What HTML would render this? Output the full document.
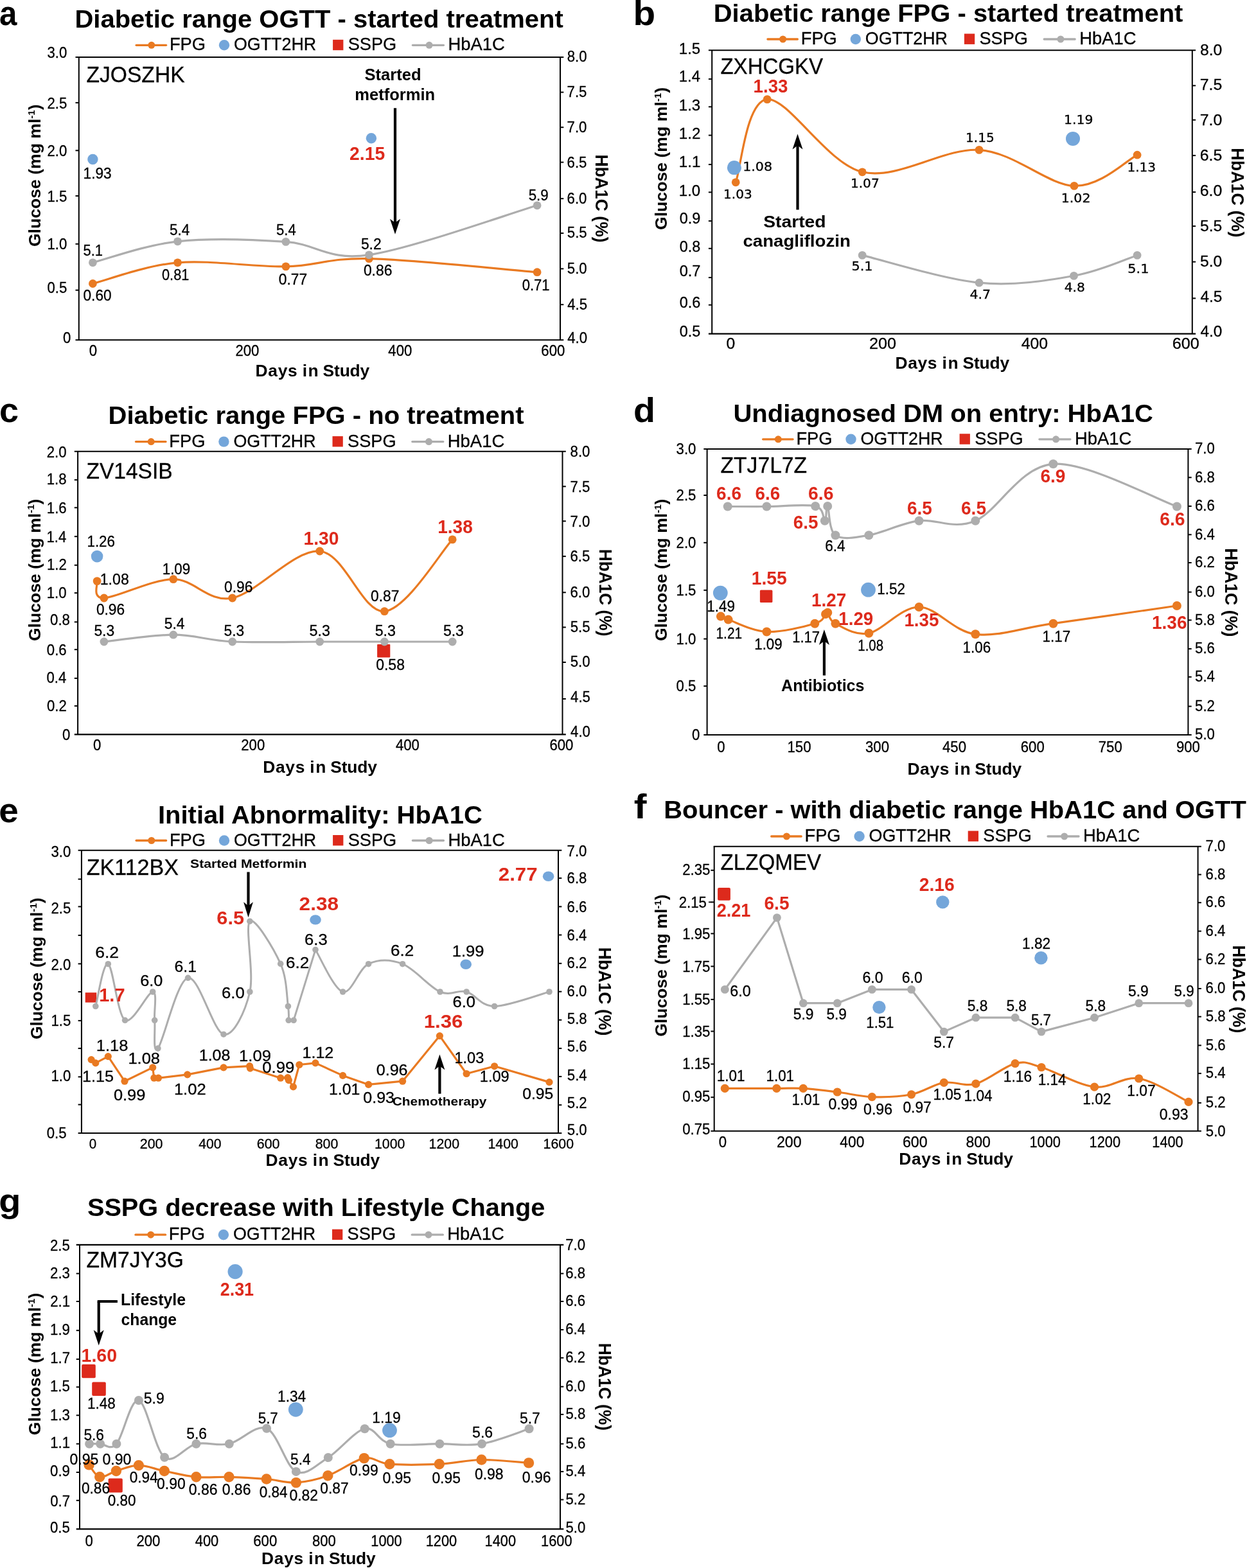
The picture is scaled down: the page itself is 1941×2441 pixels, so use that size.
<!DOCTYPE html>
<html lang="en"><head><meta charset="utf-8"><title>Longitudinal glucose and HbA1C profiles</title>
<style>html,body{margin:0;padding:0;background:#fff;overflow:hidden}svg{display:block}.r{stroke:#000;stroke-width:.3px}</style></head>
<body>
<svg width="1941" height="2441" viewBox="0 0 1941 2441" font-family="&quot;Liberation Sans&quot;, Arial, sans-serif">
<rect width="1941" height="2441" fill="#fff"/>
<g id="panel-a">
<text transform="translate(-0.88 39.1) scale(0.9119 1)" font-size="54" font-weight="bold">a</text>
<text transform="translate(116.4 43.2) scale(1.0341 1)" font-size="38.7" font-weight="bold">Diabetic range OGTT - started treatment</text>
<line x1="212.1" y1="70.3" x2="258.6" y2="70.3" stroke="#E97A22" stroke-width="3.3" stroke-linecap="round"/>
<circle cx="235.8" cy="70.3" r="5.5" fill="#E97A22"/>
<text transform="translate(263.92 78.3) scale(1.0110 1)" font-size="27" class="r">FPG</text>
<circle cx="349" cy="70.3" r="8.2" fill="#74A6DA"/>
<text transform="translate(363.99 78.3) scale(0.9945 1)" font-size="27" class="r">OGTT2HR</text>
<rect x="518.1" y="61.8" width="16.3" height="16.4" fill="#DD2A1C"/>
<text transform="translate(541.68 78.3) scale(1.0067 1)" font-size="27" class="r">SSPG</text>
<line x1="642.4" y1="70.3" x2="690.4" y2="70.3" stroke="#ADADAD" stroke-width="3.3" stroke-linecap="round"/>
<circle cx="668.1" cy="70.3" r="5.5" fill="#ADADAD"/>
<text transform="translate(697.41 78.3) scale(1.0155 1)" font-size="27" class="r">HbA1C</text>
<line x1="117.5" y1="89" x2="877.3" y2="89" stroke="#000" stroke-width="2.1"/>
<line x1="117.5" y1="529.3" x2="877.3" y2="529.3" stroke="#000" stroke-width="2.1"/>
<line x1="122.8" y1="89" x2="122.8" y2="529.3" stroke="#000" stroke-width="2"/>
<line x1="872" y1="89" x2="872" y2="529.3" stroke="#000" stroke-width="2"/>
<line x1="117.5" y1="159.9" x2="122.8" y2="159.9" stroke="#000" stroke-width="2"/>
<line x1="117.5" y1="234.3" x2="122.8" y2="234.3" stroke="#000" stroke-width="2"/>
<line x1="117.5" y1="305" x2="122.8" y2="305" stroke="#000" stroke-width="2"/>
<line x1="117.5" y1="379.8" x2="122.8" y2="379.8" stroke="#000" stroke-width="2"/>
<line x1="117.5" y1="451.7" x2="122.8" y2="451.7" stroke="#000" stroke-width="2"/>
<line x1="872" y1="143.6" x2="877.3" y2="143.6" stroke="#000" stroke-width="2"/>
<line x1="872" y1="198.2" x2="877.3" y2="198.2" stroke="#000" stroke-width="2"/>
<line x1="872" y1="252.6" x2="877.3" y2="252.6" stroke="#000" stroke-width="2"/>
<line x1="872" y1="309.2" x2="877.3" y2="309.2" stroke="#000" stroke-width="2"/>
<line x1="872" y1="363" x2="877.3" y2="363" stroke="#000" stroke-width="2"/>
<line x1="872" y1="418.4" x2="877.3" y2="418.4" stroke="#000" stroke-width="2"/>
<line x1="872" y1="474.2" x2="877.3" y2="474.2" stroke="#000" stroke-width="2"/>
<text transform="translate(73.45 89.66) scale(0.9400 1)" font-size="23.6" class="r">3.0</text>
<text transform="translate(73.45 168.66) scale(0.9400 1)" font-size="23.6" class="r">2.5</text>
<text transform="translate(73.45 243.06) scale(0.9400 1)" font-size="23.6" class="r">2.0</text>
<text transform="translate(73.45 314.26) scale(0.9400 1)" font-size="23.6" class="r">1.5</text>
<text transform="translate(73.45 388.36) scale(0.9400 1)" font-size="23.6" class="r">1.0</text>
<text transform="translate(73.45 456.16) scale(0.9400 1)" font-size="23.6" class="r">0.5</text>
<text transform="translate(98.08 533.56) scale(0.9400 1)" font-size="23.6" class="r">0</text>
<text transform="translate(882.7 95.76) scale(0.9400 1)" font-size="23.6" class="r">8.0</text>
<text transform="translate(882.59 151.16) scale(0.9400 1)" font-size="23.6" class="r">7.5</text>
<text transform="translate(882.59 205.76) scale(0.9400 1)" font-size="23.6" class="r">7.0</text>
<text transform="translate(882.59 260.56) scale(0.9400 1)" font-size="23.6" class="r">6.5</text>
<text transform="translate(882.59 317.06) scale(0.9400 1)" font-size="23.6" class="r">6.0</text>
<text transform="translate(882.81 370.36) scale(0.9400 1)" font-size="23.6" class="r">5.5</text>
<text transform="translate(882.81 425.86) scale(0.9400 1)" font-size="23.6" class="r">5.0</text>
<text transform="translate(883.15 481.86) scale(0.9400 1)" font-size="23.6" class="r">4.5</text>
<text transform="translate(883.15 534.26) scale(0.9400 1)" font-size="23.6" class="r">4.0</text>
<text transform="translate(138.64 554.06) scale(0.9400 1)" font-size="23.6" class="r">0</text>
<text transform="translate(366.42 554.06) scale(0.9400 1)" font-size="23.6" class="r">200</text>
<text transform="translate(604.3 554.06) scale(0.9400 1)" font-size="23.6" class="r">400</text>
<text transform="translate(842.32 554.06) scale(0.9400 1)" font-size="23.6" class="r">600</text>
<text y="586" font-size="26.4" font-weight="bold"><tspan x="397.58" letter-spacing="0.66">Days</tspan> <tspan x="470.65" letter-spacing="1.64">in</tspan> <tspan x="502.51" letter-spacing="-0.13">Study</tspan></text>
<text transform="translate(63 384.06) rotate(-90) scale(1.0069 1)" font-size="26.4" font-weight="bold">Glucose (mg ml<tspan font-size="15.05" dy="-9.5">-1</tspan><tspan dy="9.5">&#8203;</tspan>)</text>
<text transform="translate(927.1 240.47) rotate(90) scale(0.9515 1)" font-size="27.9" font-weight="bold">HbA1C (%)</text>
<text transform="translate(134.49 127.8) scale(0.9606 1)" font-size="35" class="r">ZJOSZHK</text>
<path d="M144.4 441.5C166.42 436.05 226.42 413.23 276.5 408.8C326.58 404.37 395.25 415.92 444.9 414.9C494.55 413.88 509.2 401.23 574.4 402.7C639.6 404.17 792.48 420.2 836.1 423.7" fill="none" stroke="#E97A22" stroke-width="3.2" stroke-linejoin="round" stroke-linecap="round"/>
<circle cx="144.4" cy="441.5" r="6.4" fill="#E97A22"/>
<circle cx="276.5" cy="408.8" r="6.4" fill="#E97A22"/>
<circle cx="444.9" cy="414.9" r="6.4" fill="#E97A22"/>
<circle cx="574.4" cy="402.7" r="6.4" fill="#E97A22"/>
<circle cx="836.1" cy="423.7" r="6.4" fill="#E97A22"/>
<path d="M144.4 408.8C166.42 403.3 226.42 381.2 276.5 375.8C326.58 370.4 395.25 372.9 444.9 376.4C494.55 379.9 509.2 406.23 574.4 396.8C639.6 387.37 792.48 332.63 836.1 319.8" fill="none" stroke="#ADADAD" stroke-width="3.2" stroke-linejoin="round" stroke-linecap="round"/>
<circle cx="144.4" cy="408.8" r="6.4" fill="#ADADAD"/>
<circle cx="276.5" cy="375.8" r="6.4" fill="#ADADAD"/>
<circle cx="444.9" cy="376.4" r="6.4" fill="#ADADAD"/>
<circle cx="574.4" cy="396.8" r="6.4" fill="#ADADAD"/>
<circle cx="836.1" cy="319.8" r="6.4" fill="#ADADAD"/>
<circle cx="144.4" cy="248" r="8.2" fill="#74A6DA"/>
<circle cx="577.9" cy="215.3" r="8.2" fill="#74A6DA"/>
<text transform="translate(129.6 277.8) scale(0.9612 1)" font-size="23.6" class="r">1.93</text>
<text transform="translate(129.52 398.4) scale(0.9322 1)" font-size="23.6" class="r">5.1</text>
<text transform="translate(264 365.5) scale(0.9534 1)" font-size="23.6" class="r">5.4</text>
<text transform="translate(430.02 365.5) scale(0.9341 1)" font-size="23.6" class="r">5.4</text>
<text transform="translate(561.89 387.6) scale(0.9681 1)" font-size="23.6" class="r">5.2</text>
<text transform="translate(822.71 311.7) scale(0.9449 1)" font-size="23.6" class="r">5.9</text>
<text transform="translate(129.49 467.9) scale(0.9611 1)" font-size="23.6" class="r">0.60</text>
<text transform="translate(252.03 435.5) scale(0.9206 1)" font-size="23.6" class="r">0.81</text>
<text transform="translate(433.79 442.7) scale(0.9662 1)" font-size="23.6" class="r">0.77</text>
<text transform="translate(565.88 429.1) scale(0.9705 1)" font-size="23.6" class="r">0.86</text>
<text transform="translate(812.72 451.5) scale(0.9343 1)" font-size="23.6" class="r">0.71</text>
<text transform="translate(544.01 249.2) scale(0.9769 1)" font-size="29" font-weight="bold" fill="#DD2A1C">2.15</text>
<text transform="translate(567.43 124.9) scale(0.9851 1)" font-size="26" font-weight="bold">Started</text>
<text transform="translate(552.24 156) scale(0.9831 1)" font-size="26" font-weight="bold">metformin</text>
<line x1="615" y1="168.3" x2="615" y2="347.8" stroke="#000" stroke-width="4.2"/>
<polygon points="615,364.8 607,340.8 615,346.8 623,340.8" fill="#000"/>
</g>
<g id="panel-b">
<text transform="translate(985.52 38.5) scale(1.0488 1)" font-size="54" font-weight="bold">b</text>
<text transform="translate(1110.7 34.4) scale(1.0332 1)" font-size="38.7" font-weight="bold">Diabetic range FPG - started treatment</text>
<line x1="1194.9" y1="61" x2="1241.4" y2="61" stroke="#E97A22" stroke-width="3.3" stroke-linecap="round"/>
<circle cx="1218.6" cy="61" r="5.5" fill="#E97A22"/>
<text transform="translate(1246.72 69) scale(1.0110 1)" font-size="27" class="r">FPG</text>
<circle cx="1331.8" cy="61" r="8.2" fill="#74A6DA"/>
<text transform="translate(1346.79 69) scale(0.9945 1)" font-size="27" class="r">OGTT2HR</text>
<rect x="1500.9" y="52.5" width="16.3" height="16.4" fill="#DD2A1C"/>
<text transform="translate(1524.48 69) scale(1.0067 1)" font-size="27" class="r">SSPG</text>
<line x1="1625.2" y1="61" x2="1673.2" y2="61" stroke="#ADADAD" stroke-width="3.3" stroke-linecap="round"/>
<circle cx="1650.9" cy="61" r="5.5" fill="#ADADAD"/>
<text transform="translate(1680.21 69) scale(1.0155 1)" font-size="27" class="r">HbA1C</text>
<line x1="1102.9" y1="78.2" x2="1861.1" y2="78.2" stroke="#000" stroke-width="2.1"/>
<line x1="1102.9" y1="519.6" x2="1861.1" y2="519.6" stroke="#000" stroke-width="2.1"/>
<line x1="1108.2" y1="78.2" x2="1108.2" y2="519.6" stroke="#000" stroke-width="2"/>
<line x1="1855.8" y1="78.2" x2="1855.8" y2="519.6" stroke="#000" stroke-width="2"/>
<line x1="1102.9" y1="123.1" x2="1108.2" y2="123.1" stroke="#000" stroke-width="2"/>
<line x1="1102.9" y1="166.3" x2="1108.2" y2="166.3" stroke="#000" stroke-width="2"/>
<line x1="1102.9" y1="210.6" x2="1108.2" y2="210.6" stroke="#000" stroke-width="2"/>
<line x1="1102.9" y1="256.1" x2="1108.2" y2="256.1" stroke="#000" stroke-width="2"/>
<line x1="1102.9" y1="299.3" x2="1108.2" y2="299.3" stroke="#000" stroke-width="2"/>
<line x1="1102.9" y1="344" x2="1108.2" y2="344" stroke="#000" stroke-width="2"/>
<line x1="1102.9" y1="386.8" x2="1108.2" y2="386.8" stroke="#000" stroke-width="2"/>
<line x1="1102.9" y1="432.1" x2="1108.2" y2="432.1" stroke="#000" stroke-width="2"/>
<line x1="1102.9" y1="474.7" x2="1108.2" y2="474.7" stroke="#000" stroke-width="2"/>
<line x1="1855.8" y1="133.3" x2="1861.1" y2="133.3" stroke="#000" stroke-width="2"/>
<line x1="1855.8" y1="186.7" x2="1861.1" y2="186.7" stroke="#000" stroke-width="2"/>
<line x1="1855.8" y1="242.1" x2="1861.1" y2="242.1" stroke="#000" stroke-width="2"/>
<line x1="1855.8" y1="299" x2="1861.1" y2="299" stroke="#000" stroke-width="2"/>
<line x1="1855.8" y1="352.1" x2="1861.1" y2="352.1" stroke="#000" stroke-width="2"/>
<line x1="1855.8" y1="407.6" x2="1861.1" y2="407.6" stroke="#000" stroke-width="2"/>
<line x1="1855.8" y1="464.4" x2="1861.1" y2="464.4" stroke="#000" stroke-width="2"/>
<text transform="translate(1056.8 84.06) scale(1.0169 1)" font-size="23.6" class="r">1.5</text>
<text transform="translate(1056.81 127.26) scale(1.0090 1)" font-size="23.6" class="r">1.4</text>
<text transform="translate(1056.79 171.56) scale(1.0210 1)" font-size="23.6" class="r">1.3</text>
<text transform="translate(1056.79 215.86) scale(1.0250 1)" font-size="23.6" class="r">1.2</text>
<text transform="translate(1056.79 259.76) scale(1.0250 1)" font-size="23.6" class="r">1.1</text>
<text transform="translate(1056.8 304.76) scale(1.0169 1)" font-size="23.6" class="r">1.0</text>
<text transform="translate(1057.66 348.46) scale(0.9936 1)" font-size="23.6" class="r">0.9</text>
<text transform="translate(1057.67 392.16) scale(0.9898 1)" font-size="23.6" class="r">0.8</text>
<text x="1057.66" y="430.16" font-size="23.6" class="r">0.7</text>
<text transform="translate(1057.66 479.16) scale(0.9936 1)" font-size="23.6" class="r">0.6</text>
<text transform="translate(1057.67 523.76) scale(0.9898 1)" font-size="23.6" class="r">0.5</text>
<text transform="translate(1867.89 85.56) scale(1.0488 1)" font-size="23.6" class="r">8.0</text>
<text transform="translate(1867.76 140.16) scale(1.0528 1)" font-size="23.6" class="r">7.5</text>
<text transform="translate(1867.76 194.96) scale(1.0528 1)" font-size="23.6" class="r">7.0</text>
<text transform="translate(1867.76 249.76) scale(1.0528 1)" font-size="23.6" class="r">6.5</text>
<text transform="translate(1867.76 305.26) scale(1.0528 1)" font-size="23.6" class="r">6.0</text>
<text transform="translate(1868.01 359.76) scale(1.0448 1)" font-size="23.6" class="r">5.5</text>
<text transform="translate(1868.01 415.26) scale(1.0448 1)" font-size="23.6" class="r">5.0</text>
<text transform="translate(1868.39 469.76) scale(1.0329 1)" font-size="23.6" class="r">4.5</text>
<text transform="translate(1868.39 524.26) scale(1.0329 1)" font-size="23.6" class="r">4.0</text>
<text transform="translate(1130.56 543.26) scale(1.0437 1)" font-size="23.6" class="r">0</text>
<text transform="translate(1353.09 543.26) scale(1.0681 1)" font-size="23.6" class="r">200</text>
<text transform="translate(1589.73 543.26) scale(1.0514 1)" font-size="23.6" class="r">400</text>
<text transform="translate(1824.79 543.26) scale(1.0681 1)" font-size="23.6" class="r">600</text>
<text y="573.6" font-size="26.4" font-weight="bold"><tspan x="1393.48" letter-spacing="0.66">Days</tspan> <tspan x="1466.55" letter-spacing="1.64">in</tspan> <tspan x="1498.41" letter-spacing="-0.13">Study</tspan></text>
<text transform="translate(1038.2 358.07) rotate(-90) scale(1.0097 1)" font-size="26.4" font-weight="bold">Glucose (mg ml<tspan font-size="15.05" dy="-9.5">-1</tspan><tspan dy="9.5">&#8203;</tspan>)</text>
<text transform="translate(1917.1 230.25) rotate(90) scale(0.9657 1)" font-size="27.9" font-weight="bold">HbA1C (%)</text>
<text transform="translate(1121.41 114.6) scale(0.9444 1)" font-size="35" class="r">ZXHCGKV</text>
<path d="M1342.2 397.4C1372.52 404.53 1469.22 434.87 1524.1 440.2C1578.98 445.53 1630.5 436.53 1671.5 429.4C1712.5 422.27 1753.67 402.73 1770.1 397.4" fill="none" stroke="#ADADAD" stroke-width="3.2" stroke-linejoin="round" stroke-linecap="round"/>
<circle cx="1342.2" cy="397.4" r="6.4" fill="#ADADAD"/>
<circle cx="1524.1" cy="440.2" r="6.4" fill="#ADADAD"/>
<circle cx="1671.5" cy="429.4" r="6.4" fill="#ADADAD"/>
<circle cx="1770.1" cy="397.4" r="6.4" fill="#ADADAD"/>
<path d="M1145.2 283.8C1153.37 262.27 1161.37 157.27 1194.2 154.6C1227.03 151.93 1287.22 254.67 1342.2 267.8C1397.18 280.93 1469.13 229.8 1524.1 233.4C1579.07 237 1631 288.1 1672 289.4C1713 290.7 1753.75 249.23 1770.1 241.2" fill="none" stroke="#E97A22" stroke-width="3.2" stroke-linejoin="round" stroke-linecap="round"/>
<circle cx="1145.2" cy="283.8" r="6.4" fill="#E97A22"/>
<circle cx="1194.2" cy="154.6" r="6.4" fill="#E97A22"/>
<circle cx="1342.2" cy="267.8" r="6.4" fill="#E97A22"/>
<circle cx="1524.1" cy="233.4" r="6.4" fill="#E97A22"/>
<circle cx="1672" cy="289.4" r="6.4" fill="#E97A22"/>
<circle cx="1770.1" cy="241.2" r="6.4" fill="#E97A22"/>
<circle cx="1142.9" cy="261.1" r="11" fill="#74A6DA"/>
<circle cx="1670" cy="215.9" r="11" fill="#74A6DA"/>
<text transform="translate(1156.13 266.3) scale(1.1094 1)" font-size="18.6" class="r" font-family="&quot;DejaVu Sans&quot;, Verdana, sans-serif">1.08</text>
<text transform="translate(1126.09 309.2) scale(1.0806 1)" font-size="18.6" class="r" font-family="&quot;DejaVu Sans&quot;, Verdana, sans-serif">1.03</text>
<text transform="translate(1323.88 292) scale(1.0832 1)" font-size="18.6" class="r" font-family="&quot;DejaVu Sans&quot;, Verdana, sans-serif">1.07</text>
<text transform="translate(1502.99 221.1) scale(1.0806 1)" font-size="18.6" class="r" font-family="&quot;DejaVu Sans&quot;, Verdana, sans-serif">1.15</text>
<text transform="translate(1656.06 192.8) scale(1.0963 1)" font-size="18.6" class="r" font-family="&quot;DejaVu Sans&quot;, Verdana, sans-serif">1.19</text>
<text transform="translate(1754.39 266.9) scale(1.0806 1)" font-size="18.6" class="r" font-family="&quot;DejaVu Sans&quot;, Verdana, sans-serif">1.13</text>
<text transform="translate(1651.74 315.1) scale(1.1046 1)" font-size="18.6" class="r" font-family="&quot;DejaVu Sans&quot;, Verdana, sans-serif">1.02</text>
<text transform="translate(1325.44 421.3) scale(1.1205 1)" font-size="18.6" class="r" font-family="&quot;DejaVu Sans&quot;, Verdana, sans-serif">5.1</text>
<text transform="translate(1509.38 465) scale(1.1011 1)" font-size="18.6" class="r" font-family="&quot;DejaVu Sans&quot;, Verdana, sans-serif">4.7</text>
<text transform="translate(1656.69 454.2) scale(1.0862 1)" font-size="18.6" class="r" font-family="&quot;DejaVu Sans&quot;, Verdana, sans-serif">4.8</text>
<text transform="translate(1755.33 425) scale(1.1243 1)" font-size="18.6" class="r" font-family="&quot;DejaVu Sans&quot;, Verdana, sans-serif">5.1</text>
<text transform="translate(1172.6 143.8) scale(0.9551 1)" font-size="29" font-weight="bold" fill="#DD2A1C">1.33</text>
<line x1="1241.5" y1="326.5" x2="1241.5" y2="225.6" stroke="#000" stroke-width="4.2"/>
<polygon points="1241.5,208.6 1233.5,232.6 1241.5,226.6 1249.5,232.6" fill="#000"/>
<text transform="translate(1188.15 353.6) scale(1.0884 1)" font-size="26" font-weight="bold">Started</text>
<text transform="translate(1156.39 383.9) scale(1.0637 1)" font-size="26" font-weight="bold">canagliflozin</text>
</g>
<g id="panel-c">
<text x="-0.96" y="657.2" font-size="54" font-weight="bold">c</text>
<text transform="translate(168.6 659.6) scale(1.0341 1)" font-size="38.7" font-weight="bold">Diabetic range FPG - no treatment</text>
<line x1="211.5" y1="687.6" x2="258" y2="687.6" stroke="#E97A22" stroke-width="3.3" stroke-linecap="round"/>
<circle cx="235.2" cy="687.6" r="5.5" fill="#E97A22"/>
<text transform="translate(263.32 695.6) scale(1.0110 1)" font-size="27" class="r">FPG</text>
<circle cx="348.4" cy="687.6" r="8.2" fill="#74A6DA"/>
<text transform="translate(363.39 695.6) scale(0.9945 1)" font-size="27" class="r">OGTT2HR</text>
<rect x="517.5" y="679.1" width="16.3" height="16.4" fill="#DD2A1C"/>
<text transform="translate(541.08 695.6) scale(1.0067 1)" font-size="27" class="r">SSPG</text>
<line x1="641.8" y1="687.6" x2="689.8" y2="687.6" stroke="#ADADAD" stroke-width="3.3" stroke-linecap="round"/>
<circle cx="667.5" cy="687.6" r="5.5" fill="#ADADAD"/>
<text transform="translate(696.81 695.6) scale(1.0155 1)" font-size="27" class="r">HbA1C</text>
<line x1="115.8" y1="702.8" x2="880.8" y2="702.8" stroke="#000" stroke-width="2.1"/>
<line x1="115.8" y1="1143.4" x2="880.8" y2="1143.4" stroke="#000" stroke-width="2.1"/>
<line x1="121.1" y1="702.8" x2="121.1" y2="1143.4" stroke="#000" stroke-width="2"/>
<line x1="875.5" y1="702.8" x2="875.5" y2="1143.4" stroke="#000" stroke-width="2"/>
<line x1="115.8" y1="747.1" x2="121.1" y2="747.1" stroke="#000" stroke-width="2"/>
<line x1="115.8" y1="790.3" x2="121.1" y2="790.3" stroke="#000" stroke-width="2"/>
<line x1="115.8" y1="835.2" x2="121.1" y2="835.2" stroke="#000" stroke-width="2"/>
<line x1="115.8" y1="879.8" x2="121.1" y2="879.8" stroke="#000" stroke-width="2"/>
<line x1="115.8" y1="923.1" x2="121.1" y2="923.1" stroke="#000" stroke-width="2"/>
<line x1="115.8" y1="968.3" x2="121.1" y2="968.3" stroke="#000" stroke-width="2"/>
<line x1="115.8" y1="1011.2" x2="121.1" y2="1011.2" stroke="#000" stroke-width="2"/>
<line x1="115.8" y1="1055.9" x2="121.1" y2="1055.9" stroke="#000" stroke-width="2"/>
<line x1="115.8" y1="1099" x2="121.1" y2="1099" stroke="#000" stroke-width="2"/>
<line x1="875.5" y1="757.3" x2="880.8" y2="757.3" stroke="#000" stroke-width="2"/>
<line x1="875.5" y1="811.3" x2="880.8" y2="811.3" stroke="#000" stroke-width="2"/>
<line x1="875.5" y1="866.1" x2="880.8" y2="866.1" stroke="#000" stroke-width="2"/>
<line x1="875.5" y1="922.3" x2="880.8" y2="922.3" stroke="#000" stroke-width="2"/>
<line x1="875.5" y1="976.5" x2="880.8" y2="976.5" stroke="#000" stroke-width="2"/>
<line x1="875.5" y1="1031" x2="880.8" y2="1031" stroke="#000" stroke-width="2"/>
<line x1="875.5" y1="1088" x2="880.8" y2="1088" stroke="#000" stroke-width="2"/>
<text transform="translate(72.75 711.56) scale(0.9400 1)" font-size="23.6" class="r">2.0</text>
<text transform="translate(72.75 754.46) scale(0.9400 1)" font-size="23.6" class="r">1.8</text>
<text transform="translate(72.86 799.16) scale(0.9400 1)" font-size="23.6" class="r">1.6</text>
<text transform="translate(72.53 844.26) scale(0.9400 1)" font-size="23.6" class="r">1.4</text>
<text transform="translate(72.97 887.26) scale(0.9400 1)" font-size="23.6" class="r">1.2</text>
<text transform="translate(72.75 931.26) scale(0.9400 1)" font-size="23.6" class="r">1.0</text>
<text transform="translate(78.05 973.06) scale(0.9400 1)" font-size="23.6" class="r">0.8</text>
<text transform="translate(72.86 1020.26) scale(0.9400 1)" font-size="23.6" class="r">0.6</text>
<text transform="translate(72.53 1063.26) scale(0.9400 1)" font-size="23.6" class="r">0.4</text>
<text transform="translate(72.97 1107.26) scale(0.9400 1)" font-size="23.6" class="r">0.2</text>
<text transform="translate(97.08 1151.66) scale(0.9400 1)" font-size="23.6" class="r">0</text>
<text transform="translate(887.6 711.06) scale(0.9400 1)" font-size="23.6" class="r">8.0</text>
<text transform="translate(887.49 765.56) scale(0.9400 1)" font-size="23.6" class="r">7.5</text>
<text transform="translate(887.49 820.46) scale(0.9400 1)" font-size="23.6" class="r">7.0</text>
<text transform="translate(887.49 874.36) scale(0.9400 1)" font-size="23.6" class="r">6.5</text>
<text transform="translate(887.49 929.96) scale(0.9400 1)" font-size="23.6" class="r">6.0</text>
<text transform="translate(887.71 983.86) scale(0.9400 1)" font-size="23.6" class="r">5.5</text>
<text transform="translate(887.71 1038.46) scale(0.9400 1)" font-size="23.6" class="r">5.0</text>
<text transform="translate(888.05 1093.26) scale(0.9400 1)" font-size="23.6" class="r">4.5</text>
<text transform="translate(888.05 1147.26) scale(0.9400 1)" font-size="23.6" class="r">4.0</text>
<text transform="translate(144.94 1168.26) scale(0.9400 1)" font-size="23.6" class="r">0</text>
<text transform="translate(375.22 1168.26) scale(0.9400 1)" font-size="23.6" class="r">200</text>
<text transform="translate(615.9 1168.26) scale(0.9400 1)" font-size="23.6" class="r">400</text>
<text transform="translate(855.42 1168.26) scale(0.9400 1)" font-size="23.6" class="r">600</text>
<text y="1203.3" font-size="26.4" font-weight="bold"><tspan x="409.28" letter-spacing="0.66">Days</tspan> <tspan x="482.35" letter-spacing="1.64">in</tspan> <tspan x="514.21" letter-spacing="-0.13">Study</tspan></text>
<text transform="translate(62.6 998.06) rotate(-90) scale(1.0065 1)" font-size="26.4" font-weight="bold">Glucose (mg ml<tspan font-size="15.05" dy="-9.5">-1</tspan><tspan dy="9.5">&#8203;</tspan>)</text>
<text transform="translate(932.7 854.79) rotate(90) scale(0.9416 1)" font-size="27.9" font-weight="bold">HbA1C (%)</text>
<text transform="translate(134.49 744.8) scale(0.9577 1)" font-size="35" class="r">ZV14SIB</text>
<rect x="587.1" y="1003.1" width="20.2" height="20.3" fill="#DD2A1C" rx="0.8"/>
<path d="M161.9 999C179.88 997.2 236.5 988.2 269.8 988.2C303.1 988.2 323.72 997.2 361.7 999C399.68 1000.8 458.25 999 497.7 999C537.15 999 563.98 999 598.4 999C632.82 999 686.57 999 704.2 999" fill="none" stroke="#ADADAD" stroke-width="3.2" stroke-linejoin="round" stroke-linecap="round"/>
<circle cx="161.9" cy="999" r="6.4" fill="#ADADAD"/>
<circle cx="269.8" cy="988.2" r="6.4" fill="#ADADAD"/>
<circle cx="361.7" cy="999" r="6.4" fill="#ADADAD"/>
<circle cx="497.7" cy="999" r="6.4" fill="#ADADAD"/>
<circle cx="598.4" cy="999" r="6.4" fill="#ADADAD"/>
<circle cx="704.2" cy="999" r="6.4" fill="#ADADAD"/>
<circle cx="151.1" cy="866.1" r="9.3" fill="#74A6DA"/>
<path d="M151.1 904.6C152.9 909 142.12 931.48 161.9 931C181.68 930.52 236.5 901.7 269.8 901.7C303.1 901.7 323.72 938.28 361.7 931C399.68 923.72 458.25 854.55 497.7 858C537.15 861.45 563.98 954.72 598.4 951.7C632.82 948.68 686.57 858.53 704.2 839.9" fill="none" stroke="#E97A22" stroke-width="3.2" stroke-linejoin="round" stroke-linecap="round"/>
<circle cx="151.1" cy="904.6" r="6.4" fill="#E97A22"/>
<circle cx="161.9" cy="931" r="6.4" fill="#E97A22"/>
<circle cx="269.8" cy="901.7" r="6.4" fill="#E97A22"/>
<circle cx="361.7" cy="931" r="6.4" fill="#E97A22"/>
<circle cx="497.7" cy="858" r="6.4" fill="#E97A22"/>
<circle cx="598.4" cy="951.7" r="6.4" fill="#E97A22"/>
<circle cx="704.2" cy="839.9" r="6.4" fill="#E97A22"/>
<text transform="translate(135.42 851.4) scale(0.9496 1)" font-size="23.6" class="r">1.26</text>
<text transform="translate(155.77 910.3) scale(0.9794 1)" font-size="23.6" class="r">1.08</text>
<text transform="translate(252.72 893.7) scale(0.9473 1)" font-size="23.6" class="r">1.09</text>
<text transform="translate(349.09 922.4) scale(0.9659 1)" font-size="23.6" class="r">0.96</text>
<text transform="translate(149.89 956.8) scale(0.9636 1)" font-size="23.6" class="r">0.96</text>
<text transform="translate(576.99 936.4) scale(0.9662 1)" font-size="23.6" class="r">0.87</text>
<text transform="translate(146.39 989.5) scale(0.9676 1)" font-size="23.6" class="r">5.3</text>
<text transform="translate(255.79 979.3) scale(0.9662 1)" font-size="23.6" class="r">5.4</text>
<text transform="translate(348.59 989.5) scale(0.9643 1)" font-size="23.6" class="r">5.3</text>
<text transform="translate(481.57 989.5) scale(0.9871 1)" font-size="23.6" class="r">5.3</text>
<text transform="translate(583.67 989.5) scale(0.9871 1)" font-size="23.6" class="r">5.3</text>
<text transform="translate(689.88 989.5) scale(0.9773 1)" font-size="23.6" class="r">5.3</text>
<text transform="translate(585.18 1043.4) scale(0.9747 1)" font-size="23.6" class="r">0.58</text>
<text transform="translate(472.57 847.9) scale(0.9726 1)" font-size="29" font-weight="bold" fill="#DD2A1C">1.30</text>
<text transform="translate(681.18 829.5) scale(0.9674 1)" font-size="29" font-weight="bold" fill="#DD2A1C">1.38</text>
</g>
<g id="panel-d">
<text transform="translate(985.97 656.7) scale(1.0304 1)" font-size="54" font-weight="bold">d</text>
<text transform="translate(1141.4 656.7) scale(1.0342 1)" font-size="38.7" font-weight="bold">Undiagnosed DM on entry: HbA1C</text>
<line x1="1187.6" y1="683.8" x2="1234.1" y2="683.8" stroke="#E97A22" stroke-width="3.3" stroke-linecap="round"/>
<circle cx="1211.3" cy="683.8" r="5.5" fill="#E97A22"/>
<text transform="translate(1239.42 691.8) scale(1.0110 1)" font-size="27" class="r">FPG</text>
<circle cx="1324.5" cy="683.8" r="8.2" fill="#74A6DA"/>
<text transform="translate(1339.49 691.8) scale(0.9945 1)" font-size="27" class="r">OGTT2HR</text>
<rect x="1493.6" y="675.3" width="16.3" height="16.4" fill="#DD2A1C"/>
<text transform="translate(1517.18 691.8) scale(1.0067 1)" font-size="27" class="r">SSPG</text>
<line x1="1617.9" y1="683.8" x2="1665.9" y2="683.8" stroke="#ADADAD" stroke-width="3.3" stroke-linecap="round"/>
<circle cx="1643.6" cy="683.8" r="5.5" fill="#ADADAD"/>
<text transform="translate(1672.91 691.8) scale(1.0155 1)" font-size="27" class="r">HbA1C</text>
<line x1="1095.3" y1="699" x2="1854.7" y2="699" stroke="#000" stroke-width="2.1"/>
<line x1="1095.3" y1="1144" x2="1854.7" y2="1144" stroke="#000" stroke-width="2.1"/>
<line x1="1100.6" y1="699" x2="1100.6" y2="1144" stroke="#000" stroke-width="2"/>
<line x1="1849.4" y1="699" x2="1849.4" y2="1144" stroke="#000" stroke-width="2"/>
<line x1="1095.3" y1="771" x2="1100.6" y2="771" stroke="#000" stroke-width="2"/>
<line x1="1095.3" y1="844.8" x2="1100.6" y2="844.8" stroke="#000" stroke-width="2"/>
<line x1="1095.3" y1="918.8" x2="1100.6" y2="918.8" stroke="#000" stroke-width="2"/>
<line x1="1095.3" y1="994.6" x2="1100.6" y2="994.6" stroke="#000" stroke-width="2"/>
<line x1="1095.3" y1="1068.1" x2="1100.6" y2="1068.1" stroke="#000" stroke-width="2"/>
<line x1="1849.4" y1="743.3" x2="1854.7" y2="743.3" stroke="#000" stroke-width="2"/>
<line x1="1849.4" y1="788" x2="1854.7" y2="788" stroke="#000" stroke-width="2"/>
<line x1="1849.4" y1="832.3" x2="1854.7" y2="832.3" stroke="#000" stroke-width="2"/>
<line x1="1849.4" y1="876" x2="1854.7" y2="876" stroke="#000" stroke-width="2"/>
<line x1="1849.4" y1="921.7" x2="1854.7" y2="921.7" stroke="#000" stroke-width="2"/>
<line x1="1849.4" y1="965.4" x2="1854.7" y2="965.4" stroke="#000" stroke-width="2"/>
<line x1="1849.4" y1="1010.1" x2="1854.7" y2="1010.1" stroke="#000" stroke-width="2"/>
<line x1="1849.4" y1="1053.8" x2="1854.7" y2="1053.8" stroke="#000" stroke-width="2"/>
<line x1="1849.4" y1="1099.6" x2="1854.7" y2="1099.6" stroke="#000" stroke-width="2"/>
<text transform="translate(1052.55 706.66) scale(0.9400 1)" font-size="23.6" class="r">3.0</text>
<text transform="translate(1052.55 779.26) scale(0.9400 1)" font-size="23.6" class="r">2.5</text>
<text transform="translate(1052.55 853.06) scale(0.9400 1)" font-size="23.6" class="r">2.0</text>
<text transform="translate(1052.55 927.06) scale(0.9400 1)" font-size="23.6" class="r">1.5</text>
<text transform="translate(1052.55 1002.86) scale(0.9400 1)" font-size="23.6" class="r">1.0</text>
<text transform="translate(1052.55 1076.36) scale(0.9400 1)" font-size="23.6" class="r">0.5</text>
<text transform="translate(1076.98 1151.66) scale(0.9400 1)" font-size="23.6" class="r">0</text>
<text transform="translate(1859.89 705.76) scale(0.9400 1)" font-size="23.6" class="r">7.0</text>
<text transform="translate(1859.89 750.66) scale(0.9400 1)" font-size="23.6" class="r">6.8</text>
<text transform="translate(1859.89 795.36) scale(0.9400 1)" font-size="23.6" class="r">6.6</text>
<text transform="translate(1859.89 839.66) scale(0.9400 1)" font-size="23.6" class="r">6.4</text>
<text transform="translate(1859.89 883.36) scale(0.9400 1)" font-size="23.6" class="r">6.2</text>
<text transform="translate(1859.89 929.06) scale(0.9400 1)" font-size="23.6" class="r">6.0</text>
<text transform="translate(1860.11 972.76) scale(0.9400 1)" font-size="23.6" class="r">5.8</text>
<text transform="translate(1860.11 1017.46) scale(0.9400 1)" font-size="23.6" class="r">5.6</text>
<text transform="translate(1860.11 1061.16) scale(0.9400 1)" font-size="23.6" class="r">5.4</text>
<text transform="translate(1860.11 1106.96) scale(0.9400 1)" font-size="23.6" class="r">5.2</text>
<text transform="translate(1860.11 1151.06) scale(0.9400 1)" font-size="23.6" class="r">5.0</text>
<text transform="translate(1116.34 1170.56) scale(0.9400 1)" font-size="23.6" class="r">0</text>
<text transform="translate(1225.54 1170.56) scale(0.9400 1)" font-size="23.6" class="r">150</text>
<text transform="translate(1347.03 1170.56) scale(0.9400 1)" font-size="23.6" class="r">300</text>
<text transform="translate(1467 1170.56) scale(0.9400 1)" font-size="23.6" class="r">450</text>
<text transform="translate(1588.72 1170.56) scale(0.9400 1)" font-size="23.6" class="r">600</text>
<text transform="translate(1709.72 1170.56) scale(0.9400 1)" font-size="23.6" class="r">750</text>
<text transform="translate(1830.88 1170.56) scale(0.9400 1)" font-size="23.6" class="r">900</text>
<text y="1206.2" font-size="26.4" font-weight="bold"><tspan x="1412.38" letter-spacing="0.66">Days</tspan> <tspan x="1485.45" letter-spacing="1.64">in</tspan> <tspan x="1517.31" letter-spacing="-0.13">Study</tspan></text>
<text transform="translate(1038.3 998.06) rotate(-90) scale(1.0065 1)" font-size="26.4" font-weight="bold">Glucose (mg ml<tspan font-size="15.05" dy="-9.5">-1</tspan><tspan dy="9.5">&#8203;</tspan>)</text>
<text transform="translate(1906.9 853.26) rotate(90) scale(0.9586 1)" font-size="27.9" font-weight="bold">HbA1C (%)</text>
<text transform="translate(1121.39 736) scale(0.9630 1)" font-size="35" class="r">ZTJ7L7Z</text>
<path d="M1132.7 788.5C1142.82 788.5 1170.65 788.58 1193.4 788.5C1216.15 788.42 1254.13 784.3 1269.2 788C1284.27 791.7 1280.63 810.7 1283.8 810.7C1286.97 810.7 1285.43 784.25 1288.2 788C1290.97 791.75 1289.7 825.67 1300.4 833.2C1311.1 840.73 1330.72 836.95 1352.4 833.2C1374.08 829.45 1402.85 814.45 1430.5 810.7C1458.15 806.95 1483.48 825.43 1518.3 810.7C1553.12 795.97 1587.13 726 1639.4 722.3C1691.67 718.6 1799.82 777.47 1831.9 788.5" fill="none" stroke="#ADADAD" stroke-width="3.2" stroke-linejoin="round" stroke-linecap="round"/>
<circle cx="1132.7" cy="788.5" r="7" fill="#ADADAD"/>
<circle cx="1193.4" cy="788.5" r="7" fill="#ADADAD"/>
<circle cx="1269.2" cy="788" r="7" fill="#ADADAD"/>
<circle cx="1283.8" cy="810.7" r="7" fill="#ADADAD"/>
<circle cx="1288.2" cy="788" r="7" fill="#ADADAD"/>
<circle cx="1300.4" cy="833.2" r="7" fill="#ADADAD"/>
<circle cx="1352.4" cy="833.2" r="7" fill="#ADADAD"/>
<circle cx="1430.5" cy="810.7" r="7" fill="#ADADAD"/>
<circle cx="1518.3" cy="810.7" r="7" fill="#ADADAD"/>
<circle cx="1639.4" cy="722.3" r="7" fill="#ADADAD"/>
<circle cx="1831.9" cy="788.5" r="7" fill="#ADADAD"/>
<rect x="1182.9" y="918.5" width="19.5" height="19.5" fill="#DD2A1C" rx="1.5"/>
<circle cx="1121.3" cy="923.1" r="11.4" fill="#74A6DA"/>
<circle cx="1351.5" cy="918.2" r="11.4" fill="#74A6DA"/>
<path d="M1121.9 959.6C1123.85 960.43 1121.68 960.62 1133.6 964.6C1145.52 968.58 1170.95 982.48 1193.4 983.5C1215.85 984.52 1253.03 975.28 1268.3 970.7C1283.57 966.12 1281.67 958.82 1285 956C1288.33 953.18 1285.73 951.35 1288.3 953.8C1290.87 956.25 1289.72 965.37 1300.4 970.7C1311.08 976.03 1330.72 990.08 1352.4 985.8C1374.08 981.52 1402.85 944.75 1430.5 945C1458.15 945.25 1483.48 983.02 1518.3 987.3C1553.12 991.58 1587.13 978.08 1639.4 970.7C1691.67 963.32 1799.82 947.62 1831.9 943" fill="none" stroke="#E97A22" stroke-width="3.2" stroke-linejoin="round" stroke-linecap="round"/>
<circle cx="1121.9" cy="959.6" r="7" fill="#E97A22"/>
<circle cx="1133.6" cy="964.6" r="7" fill="#E97A22"/>
<circle cx="1193.4" cy="983.5" r="7" fill="#E97A22"/>
<circle cx="1268.3" cy="970.7" r="7" fill="#E97A22"/>
<circle cx="1285" cy="956" r="7" fill="#E97A22"/>
<circle cx="1288.3" cy="953.8" r="7" fill="#E97A22"/>
<circle cx="1300.4" cy="970.7" r="7" fill="#E97A22"/>
<circle cx="1352.4" cy="985.8" r="7" fill="#E97A22"/>
<circle cx="1430.5" cy="945" r="7" fill="#E97A22"/>
<circle cx="1518.3" cy="987.3" r="7" fill="#E97A22"/>
<circle cx="1639.4" cy="970.7" r="7" fill="#E97A22"/>
<circle cx="1831.9" cy="943" r="7" fill="#E97A22"/>
<text transform="translate(1115.12 778.4) scale(0.9666 1)" font-size="29" font-weight="bold" fill="#DD2A1C">6.6</text>
<text transform="translate(1175.53 778.4) scale(0.9587 1)" font-size="29" font-weight="bold" fill="#DD2A1C">6.6</text>
<text transform="translate(1258.01 778.4) scale(0.9770 1)" font-size="29" font-weight="bold" fill="#DD2A1C">6.6</text>
<text transform="translate(1234.73 823.3) scale(0.9593 1)" font-size="29" font-weight="bold" fill="#DD2A1C">6.5</text>
<text transform="translate(1412.02 800.8) scale(0.9619 1)" font-size="29" font-weight="bold" fill="#DD2A1C">6.5</text>
<text transform="translate(1496.02 800.8) scale(0.9671 1)" font-size="29" font-weight="bold" fill="#DD2A1C">6.5</text>
<text transform="translate(1619.42 751.2) scale(0.9692 1)" font-size="29" font-weight="bold" fill="#DD2A1C">6.9</text>
<text transform="translate(1805.21 818.3) scale(0.9770 1)" font-size="29" font-weight="bold" fill="#DD2A1C">6.6</text>
<text transform="translate(1169.66 910.2) scale(0.9759 1)" font-size="29" font-weight="bold" fill="#DD2A1C">1.55</text>
<text transform="translate(1262.99 943.9) scale(0.9603 1)" font-size="29" font-weight="bold" fill="#DD2A1C">1.27</text>
<text transform="translate(1305.3 973) scale(0.9551 1)" font-size="29" font-weight="bold" fill="#DD2A1C">1.29</text>
<text transform="translate(1407.39 975.4) scale(0.9592 1)" font-size="29" font-weight="bold" fill="#DD2A1C">1.35</text>
<text transform="translate(1792.98 978.9) scale(0.9663 1)" font-size="29" font-weight="bold" fill="#DD2A1C">1.36</text>
<text transform="translate(1284.17 857.7) scale(0.9607 1)" font-size="23.6" class="r">6.4</text>
<text transform="translate(1365.21 925.2) scale(0.9522 1)" font-size="23.6" class="r">1.52</text>
<text transform="translate(1100.32 951.5) scale(0.9519 1)" font-size="23.6" class="r">1.49</text>
<text transform="translate(1114.54 993.5) scale(0.8824 1)" font-size="23.6" class="r">1.21</text>
<text transform="translate(1174.22 1011.2) scale(0.9473 1)" font-size="23.6" class="r">1.09</text>
<text transform="translate(1233.14 1000.2) scale(0.9359 1)" font-size="23.6" class="r">1.17</text>
<text transform="translate(1335.37 1013.3) scale(0.8637 1)" font-size="23.6" class="r">1.08</text>
<text transform="translate(1498.52 1015.6) scale(0.9496 1)" font-size="23.6" class="r">1.06</text>
<text transform="translate(1622.52 999.3) scale(0.9499 1)" font-size="23.6" class="r">1.17</text>
<line x1="1282.9" y1="1051.5" x2="1282.9" y2="997" stroke="#000" stroke-width="4.2"/>
<polygon points="1282.9,980 1274.9,1004 1282.9,998 1290.9,1004" fill="#000"/>
<text transform="translate(1216.07 1076.3) scale(0.9638 1)" font-size="26" font-weight="bold">Antibiotics</text>
</g>
<g id="panel-e">
<text transform="translate(-1.8 1279.8) scale(1.0185 1)" font-size="54" font-weight="bold">e</text>
<text transform="translate(246 1281.6) scale(1.0332 1)" font-size="38.7" font-weight="bold">Initial Abnormality: HbA1C</text>
<line x1="212.1" y1="1308.5" x2="258.6" y2="1308.5" stroke="#E97A22" stroke-width="3.3" stroke-linecap="round"/>
<circle cx="235.8" cy="1308.5" r="5.5" fill="#E97A22"/>
<text transform="translate(263.92 1316.5) scale(1.0110 1)" font-size="27" class="r">FPG</text>
<circle cx="349" cy="1308.5" r="8.2" fill="#74A6DA"/>
<text transform="translate(363.99 1316.5) scale(0.9945 1)" font-size="27" class="r">OGTT2HR</text>
<rect x="518.1" y="1300" width="16.3" height="16.4" fill="#DD2A1C"/>
<text transform="translate(541.68 1316.5) scale(1.0067 1)" font-size="27" class="r">SSPG</text>
<line x1="642.4" y1="1308.5" x2="690.4" y2="1308.5" stroke="#ADADAD" stroke-width="3.3" stroke-linecap="round"/>
<circle cx="668.1" cy="1308.5" r="5.5" fill="#ADADAD"/>
<text transform="translate(697.41 1316.5) scale(1.0155 1)" font-size="27" class="r">HbA1C</text>
<line x1="121.6" y1="1323.8" x2="874.3" y2="1323.8" stroke="#000" stroke-width="2.1"/>
<line x1="121.6" y1="1764" x2="874.3" y2="1764" stroke="#000" stroke-width="2.1"/>
<line x1="126.9" y1="1323.8" x2="126.9" y2="1764" stroke="#000" stroke-width="2"/>
<line x1="869" y1="1323.8" x2="869" y2="1764" stroke="#000" stroke-width="2"/>
<line x1="121.6" y1="1368.6" x2="126.9" y2="1368.6" stroke="#000" stroke-width="2"/>
<line x1="121.6" y1="1411.4" x2="126.9" y2="1411.4" stroke="#000" stroke-width="2"/>
<line x1="121.6" y1="1456.1" x2="126.9" y2="1456.1" stroke="#000" stroke-width="2"/>
<line x1="121.6" y1="1500.4" x2="126.9" y2="1500.4" stroke="#000" stroke-width="2"/>
<line x1="121.6" y1="1544" x2="126.9" y2="1544" stroke="#000" stroke-width="2"/>
<line x1="121.6" y1="1588.9" x2="126.9" y2="1588.9" stroke="#000" stroke-width="2"/>
<line x1="121.6" y1="1632.1" x2="126.9" y2="1632.1" stroke="#000" stroke-width="2"/>
<line x1="121.6" y1="1676.4" x2="126.9" y2="1676.4" stroke="#000" stroke-width="2"/>
<line x1="121.6" y1="1719.6" x2="126.9" y2="1719.6" stroke="#000" stroke-width="2"/>
<line x1="869" y1="1367.1" x2="874.3" y2="1367.1" stroke="#000" stroke-width="2"/>
<line x1="869" y1="1411.4" x2="874.3" y2="1411.4" stroke="#000" stroke-width="2"/>
<line x1="869" y1="1455.5" x2="874.3" y2="1455.5" stroke="#000" stroke-width="2"/>
<line x1="869" y1="1499.8" x2="874.3" y2="1499.8" stroke="#000" stroke-width="2"/>
<line x1="869" y1="1543.7" x2="874.3" y2="1543.7" stroke="#000" stroke-width="2"/>
<line x1="869" y1="1587.8" x2="874.3" y2="1587.8" stroke="#000" stroke-width="2"/>
<line x1="869" y1="1632.1" x2="874.3" y2="1632.1" stroke="#000" stroke-width="2"/>
<line x1="869" y1="1675.9" x2="874.3" y2="1675.9" stroke="#000" stroke-width="2"/>
<line x1="869" y1="1720.2" x2="874.3" y2="1720.2" stroke="#000" stroke-width="2"/>
<text transform="translate(79.45 1333.96) scale(0.9400 1)" font-size="23.6" class="r">3.0</text>
<text transform="translate(79.45 1422.06) scale(0.9400 1)" font-size="23.6" class="r">2.5</text>
<text transform="translate(79.45 1509.56) scale(0.9400 1)" font-size="23.6" class="r">2.0</text>
<text transform="translate(79.45 1597.26) scale(0.9400 1)" font-size="23.6" class="r">1.5</text>
<text transform="translate(79.45 1683.26) scale(0.9400 1)" font-size="23.6" class="r">1.0</text>
<text transform="translate(72.75 1772.46) scale(0.9400 1)" font-size="23.6" class="r">0.5</text>
<text transform="translate(882.59 1333.06) scale(0.9400 1)" font-size="23.6" class="r">7.0</text>
<text transform="translate(882.59 1375.36) scale(0.9400 1)" font-size="23.6" class="r">6.8</text>
<text transform="translate(882.59 1419.66) scale(0.9400 1)" font-size="23.6" class="r">6.6</text>
<text transform="translate(882.59 1463.76) scale(0.9400 1)" font-size="23.6" class="r">6.4</text>
<text transform="translate(882.59 1507.26) scale(0.9400 1)" font-size="23.6" class="r">6.2</text>
<text transform="translate(882.59 1550.56) scale(0.9400 1)" font-size="23.6" class="r">6.0</text>
<text transform="translate(882.81 1593.66) scale(0.9400 1)" font-size="23.6" class="r">5.8</text>
<text transform="translate(882.81 1637.46) scale(0.9400 1)" font-size="23.6" class="r">5.6</text>
<text transform="translate(882.81 1681.76) scale(0.9400 1)" font-size="23.6" class="r">5.4</text>
<text transform="translate(882.81 1724.96) scale(0.9400 1)" font-size="23.6" class="r">5.2</text>
<text transform="translate(882.81 1767.26) scale(0.9400 1)" font-size="23.6" class="r">5.0</text>
<text transform="translate(138.71 1787.93) scale(0.9400 1)" font-size="21.8" class="r">0</text>
<text transform="translate(217.73 1787.93) scale(0.9844 1)" font-size="21.8" class="r">200</text>
<text transform="translate(309.27 1787.93) scale(0.9690 1)" font-size="21.8" class="r">400</text>
<text transform="translate(399.73 1787.93) scale(0.9844 1)" font-size="21.8" class="r">600</text>
<text transform="translate(490.64 1787.93) scale(0.9813 1)" font-size="21.8" class="r">800</text>
<text transform="translate(583 1787.93) scale(0.9783 1)" font-size="21.8" class="r">1000</text>
<text transform="translate(667.6 1787.93) scale(0.9783 1)" font-size="21.8" class="r">1200</text>
<text transform="translate(759.5 1787.93) scale(0.9783 1)" font-size="21.8" class="r">1400</text>
<text transform="translate(845.6 1787.93) scale(0.9783 1)" font-size="21.8" class="r">1600</text>
<text y="1815.1" font-size="26.4" font-weight="bold"><tspan x="413.58" letter-spacing="0.66">Days</tspan> <tspan x="486.65" letter-spacing="1.64">in</tspan> <tspan x="518.51" letter-spacing="-0.13">Study</tspan></text>
<text transform="translate(66 1618.06) rotate(-90) scale(1.0023 1)" font-size="26.4" font-weight="bold">Glucose (mg ml<tspan font-size="15.05" dy="-9.5">-1</tspan><tspan dy="9.5">&#8203;</tspan>)</text>
<text transform="translate(932 1474.77) rotate(90) scale(0.9544 1)" font-size="27.9" font-weight="bold">HbA1C (%)</text>
<text transform="translate(134.78 1361.9) scale(0.9730 1)" font-size="35" class="r">ZK112BX</text>
<text transform="translate(296.06 1351.1) scale(1.1774 1)" font-size="18" font-weight="bold">Started Metformin</text>
<line x1="386.5" y1="1357.5" x2="386.5" y2="1411.2" stroke="#000" stroke-width="4.2"/>
<polygon points="386.5,1428.2 379.1,1404.2 386.5,1410.2 393.9,1404.2" fill="#000"/>
<rect x="132.7" y="1545.2" width="17.5" height="15.4" fill="#DD2A1C"/>
<path d="M148.8 1566.5C152.05 1555.53 160.67 1497.07 168.3 1500.7C175.93 1504.33 183.03 1581.08 194.6 1588.3C206.17 1595.52 230.02 1544 237.7 1544C245.38 1544 239.33 1573.62 240.7 1588.3C242.07 1602.98 237.25 1643.1 245.9 1632.1C254.55 1621.1 275.58 1525.95 292.6 1522.3C309.62 1518.65 331.95 1606.58 348 1610.2C364.05 1613.82 382.08 1573.33 388.9 1544C395.72 1514.67 380.93 1441.47 388.9 1434.2C396.87 1426.93 426.78 1478.35 436.7 1500.4C446.62 1522.45 446.32 1551.85 448.4 1566.5C450.48 1581.15 449.07 1584.67 449.2 1588.3L457.1 1588.3L491 1478.5C498.1 1489.42 519.83 1540.3 533.6 1544C547.37 1547.7 558.1 1507.92 573.6 1500.7C589.1 1493.48 608.03 1493.48 626.6 1500.7C645.17 1507.92 668.42 1536.78 685 1544C701.58 1551.22 712 1540.25 726.1 1544C740.2 1547.75 748.12 1566.5 769.6 1566.5C791.08 1566.5 840.77 1547.75 855 1544" fill="none" stroke="#ADADAD" stroke-width="3" stroke-linejoin="round" stroke-linecap="round"/>
<circle cx="148.8" cy="1566.5" r="4.8" fill="#ADADAD"/>
<circle cx="168.3" cy="1500.7" r="4.8" fill="#ADADAD"/>
<circle cx="194.6" cy="1588.3" r="4.8" fill="#ADADAD"/>
<circle cx="237.7" cy="1544" r="4.8" fill="#ADADAD"/>
<circle cx="240.7" cy="1588.3" r="4.8" fill="#ADADAD"/>
<circle cx="245.9" cy="1632.1" r="4.8" fill="#ADADAD"/>
<circle cx="292.6" cy="1522.3" r="4.8" fill="#ADADAD"/>
<circle cx="348" cy="1610.2" r="4.8" fill="#ADADAD"/>
<circle cx="388.9" cy="1544" r="4.8" fill="#ADADAD"/>
<circle cx="388.9" cy="1434.2" r="4.8" fill="#ADADAD"/>
<circle cx="436.7" cy="1500.4" r="4.8" fill="#ADADAD"/>
<circle cx="448.4" cy="1566.5" r="4.8" fill="#ADADAD"/>
<circle cx="449.2" cy="1588.3" r="4.8" fill="#ADADAD"/>
<circle cx="457.1" cy="1588.3" r="4.8" fill="#ADADAD"/>
<circle cx="491" cy="1478.5" r="4.8" fill="#ADADAD"/>
<circle cx="533.6" cy="1544" r="4.8" fill="#ADADAD"/>
<circle cx="573.6" cy="1500.7" r="4.8" fill="#ADADAD"/>
<circle cx="626.6" cy="1500.7" r="4.8" fill="#ADADAD"/>
<circle cx="685" cy="1544" r="4.8" fill="#ADADAD"/>
<circle cx="726.1" cy="1544" r="4.8" fill="#ADADAD"/>
<circle cx="769.6" cy="1566.5" r="4.8" fill="#ADADAD"/>
<circle cx="855" cy="1544" r="4.8" fill="#ADADAD"/>
<ellipse cx="491" cy="1431.9" rx="8.8" ry="7.7" fill="#74A6DA"/>
<ellipse cx="725.2" cy="1501.3" rx="8.8" ry="7.7" fill="#74A6DA"/>
<ellipse cx="853.6" cy="1364.2" rx="8.8" ry="7.7" fill="#74A6DA"/>
<path d="M142.1 1649.6L148.8 1654.9L168.3 1644.6L194 1683.2L237.7 1661.9L239.8 1678.2L246.5 1678.2L291.7 1672.9L348 1661.9L388.6 1659.7L389.4 1663.1L436.7 1678.2L447.8 1677.7L449.4 1681.6L456.5 1691.9L465.9 1657.5L491 1654.9L533.6 1674.4L573.6 1688.4L626.6 1683.2L684.4 1612.6L726.1 1671.5L769.6 1659.8L855 1684.6" fill="none" stroke="#E97A22" stroke-width="3.2" stroke-linejoin="round" stroke-linecap="round"/>
<circle cx="142.1" cy="1649.6" r="5.6" fill="#E97A22"/>
<circle cx="148.8" cy="1654.9" r="5.6" fill="#E97A22"/>
<circle cx="168.3" cy="1644.6" r="5.6" fill="#E97A22"/>
<circle cx="194" cy="1683.2" r="5.6" fill="#E97A22"/>
<circle cx="237.7" cy="1661.9" r="5.6" fill="#E97A22"/>
<circle cx="239.8" cy="1678.2" r="5.6" fill="#E97A22"/>
<circle cx="246.5" cy="1678.2" r="5.6" fill="#E97A22"/>
<circle cx="291.7" cy="1672.9" r="5.6" fill="#E97A22"/>
<circle cx="348" cy="1661.9" r="5.6" fill="#E97A22"/>
<circle cx="388.6" cy="1659.7" r="5.6" fill="#E97A22"/>
<circle cx="389.4" cy="1663.1" r="5.6" fill="#E97A22"/>
<circle cx="436.7" cy="1678.2" r="5.6" fill="#E97A22"/>
<circle cx="447.8" cy="1677.7" r="5.6" fill="#E97A22"/>
<circle cx="449.4" cy="1681.6" r="5.6" fill="#E97A22"/>
<circle cx="456.5" cy="1691.9" r="5.6" fill="#E97A22"/>
<circle cx="465.9" cy="1657.5" r="5.6" fill="#E97A22"/>
<circle cx="491" cy="1654.9" r="5.6" fill="#E97A22"/>
<circle cx="533.6" cy="1674.4" r="5.6" fill="#E97A22"/>
<circle cx="573.6" cy="1688.4" r="5.6" fill="#E97A22"/>
<circle cx="626.6" cy="1683.2" r="5.6" fill="#E97A22"/>
<circle cx="684.4" cy="1612.6" r="5.6" fill="#E97A22"/>
<circle cx="726.1" cy="1671.5" r="5.6" fill="#E97A22"/>
<circle cx="769.6" cy="1659.8" r="5.6" fill="#E97A22"/>
<circle cx="855" cy="1684.6" r="5.6" fill="#E97A22"/>
<text transform="translate(337.33 1439.3) scale(1.0578 1)" font-size="29" font-weight="bold" fill="#DD2A1C">6.5</text>
<text transform="translate(465.6 1417.4) scale(1.0877 1)" font-size="29" font-weight="bold" fill="#DD2A1C">2.38</text>
<text transform="translate(775.81 1370.7) scale(1.0779 1)" font-size="29" font-weight="bold" fill="#DD2A1C">2.77</text>
<text x="154.22" y="1559" font-size="29" font-weight="bold" fill="#DD2A1C">1.7</text>
<text transform="translate(659.67 1599.8) scale(1.0784 1)" font-size="29" font-weight="bold" fill="#DD2A1C">1.36</text>
<text transform="translate(703.78 1488.9) scale(1.0843 1)" font-size="23.6" class="r">1.99</text>
<text transform="translate(148.27 1491.2) scale(1.1234 1)" font-size="23.6" class="r">6.2</text>
<text transform="translate(271.56 1513.1) scale(1.0511 1)" font-size="23.6" class="r">6.1</text>
<text transform="translate(218.13 1534.7) scale(1.0724 1)" font-size="23.6" class="r">6.0</text>
<text transform="translate(445 1507.2) scale(1.1037 1)" font-size="23.6" class="r">6.2</text>
<text transform="translate(474.02 1470.8) scale(1.0863 1)" font-size="23.6" class="r">6.3</text>
<text transform="translate(608.1 1488) scale(1.1037 1)" font-size="23.6" class="r">6.2</text>
<text transform="translate(345.01 1554) scale(1.0919 1)" font-size="23.6" class="r">6.0</text>
<text transform="translate(704.42 1568) scale(1.0854 1)" font-size="23.6" class="r">6.0</text>
<text transform="translate(149.79 1636.3) scale(1.0813 1)" font-size="23.6" class="r">1.18</text>
<text transform="translate(127.91 1683.9) scale(1.0674 1)" font-size="23.6" class="r">1.15</text>
<text transform="translate(176.88 1713) scale(1.0775 1)" font-size="23.6" class="r">0.99</text>
<text transform="translate(199.39 1655.6) scale(1.0813 1)" font-size="23.6" class="r">1.08</text>
<text transform="translate(270.88 1703.7) scale(1.0849 1)" font-size="23.6" class="r">1.02</text>
<text transform="translate(309.72 1650.9) scale(1.0605 1)" font-size="23.6" class="r">1.08</text>
<text transform="translate(372.08 1651.7) scale(1.0843 1)" font-size="23.6" class="r">1.09</text>
<text transform="translate(408.27 1670.1) scale(1.0889 1)" font-size="23.6" class="r">0.99</text>
<text transform="translate(470.41 1646.5) scale(1.0663 1)" font-size="23.6" class="r">1.12</text>
<text transform="translate(511.94 1703.7) scale(1.0523 1)" font-size="23.6" class="r">1.01</text>
<text transform="translate(565.3 1716.5) scale(1.0616 1)" font-size="23.6" class="r">0.93</text>
<text transform="translate(585.7 1673.7) scale(1.0639 1)" font-size="23.6" class="r">0.96</text>
<text x="707.42" y="1655.3" font-size="23.6" class="r">1.03</text>
<text x="746.82" y="1683.9" font-size="23.6" class="r">1.09</text>
<text transform="translate(813.21 1710.7) scale(1.0474 1)" font-size="23.6" class="r">0.95</text>
<line x1="684.4" y1="1702.7" x2="684.4" y2="1658.4" stroke="#000" stroke-width="4.2"/>
<polygon points="684.4,1641.4 676.4,1665.4 684.4,1659.4 692.4,1665.4" fill="#000"/>
<text transform="translate(610.66 1721.1) scale(1.1332 1)" font-size="18.5" font-weight="bold">Chemotherapy</text>
</g>
<g id="panel-f">
<text transform="translate(986.81 1274) scale(1.0995 1)" font-size="54" font-weight="bold">f</text>
<text transform="translate(1033.21 1274) scale(1.0313 1)" font-size="38.7" font-weight="bold">Bouncer - with diabetic range HbA1C and OGTT</text>
<line x1="1200.7" y1="1302" x2="1247.2" y2="1302" stroke="#E97A22" stroke-width="3.3" stroke-linecap="round"/>
<circle cx="1224.4" cy="1302" r="5.5" fill="#E97A22"/>
<text transform="translate(1252.52 1310) scale(1.0110 1)" font-size="27" class="r">FPG</text>
<circle cx="1337.6" cy="1302" r="8.2" fill="#74A6DA"/>
<text transform="translate(1352.59 1310) scale(0.9945 1)" font-size="27" class="r">OGTT2HR</text>
<rect x="1506.7" y="1293.5" width="16.3" height="16.4" fill="#DD2A1C"/>
<text transform="translate(1530.28 1310) scale(1.0067 1)" font-size="27" class="r">SSPG</text>
<line x1="1631" y1="1302" x2="1679" y2="1302" stroke="#ADADAD" stroke-width="3.3" stroke-linecap="round"/>
<circle cx="1656.7" cy="1302" r="5.5" fill="#ADADAD"/>
<text transform="translate(1686.01 1310) scale(1.0155 1)" font-size="27" class="r">HbA1C</text>
<line x1="1110.7" y1="1317.7" x2="1869.9" y2="1317.7" stroke="#000" stroke-width="2.1"/>
<line x1="1106.4" y1="1760.7" x2="1869.9" y2="1760.7" stroke="#000" stroke-width="2.1"/>
<line x1="1111.7" y1="1317.7" x2="1111.7" y2="1760.7" stroke="#000" stroke-width="2"/>
<line x1="1864.6" y1="1317.7" x2="1864.6" y2="1760.7" stroke="#000" stroke-width="2"/>
<line x1="1106.4" y1="1354.8" x2="1111.7" y2="1354.8" stroke="#000" stroke-width="2"/>
<line x1="1106.4" y1="1404.4" x2="1111.7" y2="1404.4" stroke="#000" stroke-width="2"/>
<line x1="1106.4" y1="1453.4" x2="1111.7" y2="1453.4" stroke="#000" stroke-width="2"/>
<line x1="1106.4" y1="1504.4" x2="1111.7" y2="1504.4" stroke="#000" stroke-width="2"/>
<line x1="1106.4" y1="1555.9" x2="1111.7" y2="1555.9" stroke="#000" stroke-width="2"/>
<line x1="1106.4" y1="1605.5" x2="1111.7" y2="1605.5" stroke="#000" stroke-width="2"/>
<line x1="1106.4" y1="1656.5" x2="1111.7" y2="1656.5" stroke="#000" stroke-width="2"/>
<line x1="1106.4" y1="1708.2" x2="1111.7" y2="1708.2" stroke="#000" stroke-width="2"/>
<line x1="1864.6" y1="1361.5" x2="1869.9" y2="1361.5" stroke="#000" stroke-width="2"/>
<line x1="1864.6" y1="1405.2" x2="1869.9" y2="1405.2" stroke="#000" stroke-width="2"/>
<line x1="1864.6" y1="1449.6" x2="1869.9" y2="1449.6" stroke="#000" stroke-width="2"/>
<line x1="1864.6" y1="1493.6" x2="1869.9" y2="1493.6" stroke="#000" stroke-width="2"/>
<line x1="1864.6" y1="1539" x2="1869.9" y2="1539" stroke="#000" stroke-width="2"/>
<line x1="1864.6" y1="1582.7" x2="1869.9" y2="1582.7" stroke="#000" stroke-width="2"/>
<line x1="1864.6" y1="1627.4" x2="1869.9" y2="1627.4" stroke="#000" stroke-width="2"/>
<line x1="1864.6" y1="1671.1" x2="1869.9" y2="1671.1" stroke="#000" stroke-width="2"/>
<line x1="1864.6" y1="1716.9" x2="1869.9" y2="1716.9" stroke="#000" stroke-width="2"/>
<line x1="1103" y1="1404.4" x2="1107" y2="1404.4" stroke="#000" stroke-width="1.8"/>
<text transform="translate(1062.14 1362.46) scale(0.9400 1)" font-size="23.6" class="r">2.35</text>
<text transform="translate(1056.74 1412.66) scale(0.9400 1)" font-size="23.6" class="r">2.15</text>
<text transform="translate(1062.14 1462.46) scale(0.9400 1)" font-size="23.6" class="r">1.95</text>
<text transform="translate(1062.14 1512.66) scale(0.9400 1)" font-size="23.6" class="r">1.75</text>
<text transform="translate(1062.14 1563.76) scale(0.9400 1)" font-size="23.6" class="r">1.55</text>
<text transform="translate(1062.14 1614.26) scale(0.9400 1)" font-size="23.6" class="r">1.35</text>
<text transform="translate(1062.14 1664.06) scale(0.9400 1)" font-size="23.6" class="r">1.15</text>
<text transform="translate(1062.14 1715.26) scale(0.9400 1)" font-size="23.6" class="r">0.95</text>
<text transform="translate(1062.14 1766.46) scale(0.9400 1)" font-size="23.6" class="r">0.75</text>
<text transform="translate(1876.59 1325.06) scale(0.9400 1)" font-size="23.6" class="r">7.0</text>
<text transform="translate(1876.59 1368.76) scale(0.9400 1)" font-size="23.6" class="r">6.8</text>
<text transform="translate(1876.59 1412.46) scale(0.9400 1)" font-size="23.6" class="r">6.6</text>
<text transform="translate(1876.59 1456.86) scale(0.9400 1)" font-size="23.6" class="r">6.4</text>
<text transform="translate(1876.59 1500.86) scale(0.9400 1)" font-size="23.6" class="r">6.2</text>
<text transform="translate(1876.59 1546.26) scale(0.9400 1)" font-size="23.6" class="r">6.0</text>
<text transform="translate(1876.81 1589.96) scale(0.9400 1)" font-size="23.6" class="r">5.8</text>
<text transform="translate(1876.81 1634.66) scale(0.9400 1)" font-size="23.6" class="r">5.6</text>
<text transform="translate(1876.81 1678.36) scale(0.9400 1)" font-size="23.6" class="r">5.4</text>
<text transform="translate(1876.81 1724.16) scale(0.9400 1)" font-size="23.6" class="r">5.2</text>
<text transform="translate(1876.81 1768.96) scale(0.9400 1)" font-size="23.6" class="r">5.0</text>
<text transform="translate(1118.64 1786.46) scale(0.9400 1)" font-size="23.6" class="r">0</text>
<text transform="translate(1208.99 1786.46) scale(0.9820 1)" font-size="23.6" class="r">200</text>
<text transform="translate(1307.28 1786.46) scale(0.9666 1)" font-size="23.6" class="r">400</text>
<text transform="translate(1404.99 1786.46) scale(0.9820 1)" font-size="23.6" class="r">600</text>
<text transform="translate(1503.41 1786.46) scale(0.9789 1)" font-size="23.6" class="r">800</text>
<text transform="translate(1602.46 1786.46) scale(0.9238 1)" font-size="23.6" class="r">1000</text>
<text transform="translate(1695.56 1786.46) scale(0.9238 1)" font-size="23.6" class="r">1200</text>
<text transform="translate(1793.26 1786.46) scale(0.9238 1)" font-size="23.6" class="r">1400</text>
<text y="1813.3" font-size="26.4" font-weight="bold"><tspan x="1399.28" letter-spacing="0.66">Days</tspan> <tspan x="1472.35" letter-spacing="1.64">in</tspan> <tspan x="1504.21" letter-spacing="-0.13">Study</tspan></text>
<text transform="translate(1038.3 1613.86) rotate(-90) scale(1.0060 1)" font-size="26.4" font-weight="bold">Glucose (mg ml<tspan font-size="15.05" dy="-9.5">-1</tspan><tspan dy="9.5">&#8203;</tspan>)</text>
<text transform="translate(1919 1471.48) rotate(90) scale(0.9487 1)" font-size="27.9" font-weight="bold">HbA1C (%)</text>
<text transform="translate(1121.6 1354.2) scale(0.9477 1)" font-size="35" class="r">ZLZQMEV</text>
<rect x="1117.1" y="1382.1" width="19.8" height="19.7" fill="#DD2A1C" rx="2"/>
<path d="M1128.3 1540.4L1209.4 1428.6L1250.3 1561.7L1303.3 1561.7L1357.3 1540.4L1418.6 1540.4L1469.3 1606.1L1518.9 1584.2L1580.1 1584.2L1621 1606.1L1703.5 1584.2L1772.7 1561.7L1850 1561.7" fill="none" stroke="#ADADAD" stroke-width="3.2" stroke-linejoin="round" stroke-linecap="round"/>
<circle cx="1128.3" cy="1540.4" r="6.4" fill="#ADADAD"/>
<circle cx="1209.4" cy="1428.6" r="6.4" fill="#ADADAD"/>
<circle cx="1250.3" cy="1561.7" r="6.4" fill="#ADADAD"/>
<circle cx="1303.3" cy="1561.7" r="6.4" fill="#ADADAD"/>
<circle cx="1357.3" cy="1540.4" r="6.4" fill="#ADADAD"/>
<circle cx="1418.6" cy="1540.4" r="6.4" fill="#ADADAD"/>
<circle cx="1469.3" cy="1606.1" r="6.4" fill="#ADADAD"/>
<circle cx="1518.9" cy="1584.2" r="6.4" fill="#ADADAD"/>
<circle cx="1580.1" cy="1584.2" r="6.4" fill="#ADADAD"/>
<circle cx="1621" cy="1606.1" r="6.4" fill="#ADADAD"/>
<circle cx="1703.5" cy="1584.2" r="6.4" fill="#ADADAD"/>
<circle cx="1772.7" cy="1561.7" r="6.4" fill="#ADADAD"/>
<circle cx="1850" cy="1561.7" r="6.4" fill="#ADADAD"/>
<circle cx="1467.3" cy="1404.4" r="10.2" fill="#74A6DA"/>
<circle cx="1620.4" cy="1491.3" r="10.2" fill="#74A6DA"/>
<circle cx="1368.4" cy="1568.1" r="10.2" fill="#74A6DA"/>
<path d="M1128.3 1694.4C1141.72 1694.4 1188.47 1694.4 1208.8 1694.4C1229.13 1694.4 1234.55 1693.47 1250.3 1694.4C1266.05 1695.33 1285.47 1697.8 1303.3 1700C1321.13 1702.2 1338.08 1706.97 1357.3 1707.6C1376.52 1708.23 1399.93 1707.5 1418.6 1703.8C1437.27 1700.1 1452.58 1688.17 1469.3 1685.4C1486.02 1682.63 1500.43 1692.17 1518.9 1687.2C1537.37 1682.23 1563.08 1659.88 1580.1 1655.6C1597.12 1651.32 1600.43 1655.42 1621 1661.5C1641.57 1667.58 1678.22 1689.18 1703.5 1692.1C1728.78 1695.02 1748.28 1675.12 1772.7 1679C1797.12 1682.88 1837.12 1709.33 1850 1715.4" fill="none" stroke="#E97A22" stroke-width="3.2" stroke-linejoin="round" stroke-linecap="round"/>
<circle cx="1128.3" cy="1694.4" r="6.6" fill="#E97A22"/>
<circle cx="1208.8" cy="1694.4" r="6.6" fill="#E97A22"/>
<circle cx="1250.3" cy="1694.4" r="6.6" fill="#E97A22"/>
<circle cx="1303.3" cy="1700" r="6.6" fill="#E97A22"/>
<circle cx="1357.3" cy="1707.6" r="6.6" fill="#E97A22"/>
<circle cx="1418.6" cy="1703.8" r="6.6" fill="#E97A22"/>
<circle cx="1469.3" cy="1685.4" r="6.6" fill="#E97A22"/>
<circle cx="1518.9" cy="1687.2" r="6.6" fill="#E97A22"/>
<circle cx="1580.1" cy="1655.6" r="6.6" fill="#E97A22"/>
<circle cx="1621" cy="1661.5" r="6.6" fill="#E97A22"/>
<circle cx="1703.5" cy="1692.1" r="6.6" fill="#E97A22"/>
<circle cx="1772.7" cy="1679" r="6.6" fill="#E97A22"/>
<circle cx="1850" cy="1715.4" r="6.6" fill="#E97A22"/>
<text transform="translate(1115.65 1426.6) scale(0.9348 1)" font-size="29" font-weight="bold" fill="#DD2A1C">2.21</text>
<text transform="translate(1189.52 1416.4) scale(0.9671 1)" font-size="29" font-weight="bold" fill="#DD2A1C">6.5</text>
<text transform="translate(1430.71 1386.7) scale(0.9766 1)" font-size="29" font-weight="bold" fill="#DD2A1C">2.16</text>
<text transform="translate(1590.99 1476.8) scale(0.9639 1)" font-size="23.6" class="r">1.82</text>
<text transform="translate(1348.34 1599.7) scale(0.9383 1)" font-size="23.6" class="r">1.51</text>
<text transform="translate(1136.23 1550.7) scale(0.9876 1)" font-size="23.6" class="r">6.0</text>
<text transform="translate(1234.79 1587.2) scale(0.9643 1)" font-size="23.6" class="r">5.9</text>
<text transform="translate(1286.4 1587.2) scale(0.9579 1)" font-size="23.6" class="r">5.9</text>
<text transform="translate(1342.44 1529.7) scale(0.9811 1)" font-size="23.6" class="r">6.0</text>
<text transform="translate(1403.75 1529.7) scale(0.9778 1)" font-size="23.6" class="r">6.0</text>
<text transform="translate(1453.18 1630.9) scale(0.9713 1)" font-size="23.6" class="r">5.7</text>
<text transform="translate(1505.69 1573.5) scale(0.9639 1)" font-size="23.6" class="r">5.8</text>
<text transform="translate(1566.39 1573.5) scale(0.9639 1)" font-size="23.6" class="r">5.8</text>
<text transform="translate(1604.9 1595.9) scale(0.9518 1)" font-size="23.6" class="r">5.7</text>
<text transform="translate(1689.49 1573.5) scale(0.9639 1)" font-size="23.6" class="r">5.8</text>
<text transform="translate(1755.99 1551) scale(0.9676 1)" font-size="23.6" class="r">5.9</text>
<text transform="translate(1827.5 1551) scale(0.9481 1)" font-size="23.6" class="r">5.9</text>
<text transform="translate(1115.81 1682.9) scale(0.9522 1)" font-size="23.6" class="r">1.01</text>
<text transform="translate(1192.53 1682.9) scale(0.9452 1)" font-size="23.6" class="r">1.01</text>
<text transform="translate(1232.52 1720.2) scale(0.9499 1)" font-size="23.6" class="r">1.01</text>
<text transform="translate(1289.58 1727.2) scale(0.9773 1)" font-size="23.6" class="r">0.99</text>
<text transform="translate(1344.08 1734.8) scale(0.9796 1)" font-size="23.6" class="r">0.96</text>
<text transform="translate(1405.39 1731.9) scale(0.9662 1)" font-size="23.6" class="r">0.97</text>
<text transform="translate(1452.4 1712) scale(0.9586 1)" font-size="23.6" class="r">1.05</text>
<text transform="translate(1500.6 1714.4) scale(0.9603 1)" font-size="23.6" class="r">1.04</text>
<text transform="translate(1561.79 1684.3) scale(0.9635 1)" font-size="23.6" class="r">1.16</text>
<text transform="translate(1615.81 1689.3) scale(0.9534 1)" font-size="23.6" class="r">1.14</text>
<text transform="translate(1685.19 1719.3) scale(0.9639 1)" font-size="23.6" class="r">1.02</text>
<text transform="translate(1754.29 1706.2) scale(0.9662 1)" font-size="23.6" class="r">1.07</text>
<text transform="translate(1804.68 1742.7) scale(0.9773 1)" font-size="23.6" class="r">0.93</text>
</g>
<g id="panel-g">
<text transform="translate(-1.83 1887.3) scale(1.0739 1)" font-size="52" font-weight="bold">g</text>
<text transform="translate(135.91 1893.3) scale(1.0259 1)" font-size="38.7" font-weight="bold">SSPG decrease with Lifestyle Change</text>
<line x1="211" y1="1922.2" x2="257.5" y2="1922.2" stroke="#E97A22" stroke-width="3.3" stroke-linecap="round"/>
<circle cx="234.7" cy="1922.2" r="5.5" fill="#E97A22"/>
<text transform="translate(262.82 1930.2) scale(1.0110 1)" font-size="27" class="r">FPG</text>
<circle cx="347.9" cy="1922.2" r="8.2" fill="#74A6DA"/>
<text transform="translate(362.89 1930.2) scale(0.9945 1)" font-size="27" class="r">OGTT2HR</text>
<rect x="517" y="1913.7" width="16.3" height="16.4" fill="#DD2A1C"/>
<text transform="translate(540.58 1930.2) scale(1.0067 1)" font-size="27" class="r">SSPG</text>
<line x1="641.3" y1="1922.2" x2="689.3" y2="1922.2" stroke="#ADADAD" stroke-width="3.3" stroke-linecap="round"/>
<circle cx="667" cy="1922.2" r="5.5" fill="#ADADAD"/>
<text transform="translate(696.31 1930.2) scale(1.0155 1)" font-size="27" class="r">HbA1C</text>
<line x1="118.7" y1="1937.9" x2="877.3" y2="1937.9" stroke="#000" stroke-width="2.1"/>
<line x1="118.7" y1="2380.4" x2="877.3" y2="2380.4" stroke="#000" stroke-width="2.1"/>
<line x1="124" y1="1937.9" x2="124" y2="2380.4" stroke="#000" stroke-width="2"/>
<line x1="872" y1="1937.9" x2="872" y2="2380.4" stroke="#000" stroke-width="2"/>
<line x1="118.7" y1="1982.6" x2="124" y2="1982.6" stroke="#000" stroke-width="2"/>
<line x1="118.7" y1="2026" x2="124" y2="2026" stroke="#000" stroke-width="2"/>
<line x1="118.7" y1="2071.2" x2="124" y2="2071.2" stroke="#000" stroke-width="2"/>
<line x1="118.7" y1="2115.9" x2="124" y2="2115.9" stroke="#000" stroke-width="2"/>
<line x1="118.7" y1="2159.3" x2="124" y2="2159.3" stroke="#000" stroke-width="2"/>
<line x1="118.7" y1="2203.3" x2="124" y2="2203.3" stroke="#000" stroke-width="2"/>
<line x1="118.7" y1="2247.7" x2="124" y2="2247.7" stroke="#000" stroke-width="2"/>
<line x1="118.7" y1="2292" x2="124" y2="2292" stroke="#000" stroke-width="2"/>
<line x1="118.7" y1="2335.8" x2="124" y2="2335.8" stroke="#000" stroke-width="2"/>
<line x1="872" y1="1982.6" x2="877.3" y2="1982.6" stroke="#000" stroke-width="2"/>
<line x1="872" y1="2026" x2="877.3" y2="2026" stroke="#000" stroke-width="2"/>
<line x1="872" y1="2070.1" x2="877.3" y2="2070.1" stroke="#000" stroke-width="2"/>
<line x1="872" y1="2113.8" x2="877.3" y2="2113.8" stroke="#000" stroke-width="2"/>
<line x1="872" y1="2158.7" x2="877.3" y2="2158.7" stroke="#000" stroke-width="2"/>
<line x1="872" y1="2201.9" x2="877.3" y2="2201.9" stroke="#000" stroke-width="2"/>
<line x1="872" y1="2247.7" x2="877.3" y2="2247.7" stroke="#000" stroke-width="2"/>
<line x1="872" y1="2290.9" x2="877.3" y2="2290.9" stroke="#000" stroke-width="2"/>
<line x1="872" y1="2334.6" x2="877.3" y2="2334.6" stroke="#000" stroke-width="2"/>
<text transform="translate(77.95 1946.76) scale(0.9400 1)" font-size="23.6" class="r">2.5</text>
<text transform="translate(78.06 1989.96) scale(0.9400 1)" font-size="23.6" class="r">2.3</text>
<text transform="translate(78.17 2034.26) scale(0.9400 1)" font-size="23.6" class="r">2.1</text>
<text transform="translate(78.06 2078.06) scale(0.9400 1)" font-size="23.6" class="r">1.9</text>
<text transform="translate(78.17 2121.76) scale(0.9400 1)" font-size="23.6" class="r">1.7</text>
<text transform="translate(77.95 2166.06) scale(0.9400 1)" font-size="23.6" class="r">1.5</text>
<text transform="translate(78.06 2210.76) scale(0.9400 1)" font-size="23.6" class="r">1.3</text>
<text transform="translate(78.17 2254.46) scale(0.9400 1)" font-size="23.6" class="r">1.1</text>
<text transform="translate(78.06 2298.26) scale(0.9400 1)" font-size="23.6" class="r">0.9</text>
<text transform="translate(78.17 2344.96) scale(0.9400 1)" font-size="23.6" class="r">0.7</text>
<text transform="translate(77.95 2385.76) scale(0.9400 1)" font-size="23.6" class="r">0.5</text>
<text transform="translate(880.19 1945.66) scale(0.9400 1)" font-size="23.6" class="r">7.0</text>
<text transform="translate(880.19 1989.86) scale(0.9400 1)" font-size="23.6" class="r">6.8</text>
<text transform="translate(880.19 2033.26) scale(0.9400 1)" font-size="23.6" class="r">6.6</text>
<text transform="translate(880.19 2077.36) scale(0.9400 1)" font-size="23.6" class="r">6.4</text>
<text transform="translate(880.19 2121.06) scale(0.9400 1)" font-size="23.6" class="r">6.2</text>
<text transform="translate(880.19 2165.96) scale(0.9400 1)" font-size="23.6" class="r">6.0</text>
<text transform="translate(880.41 2209.16) scale(0.9400 1)" font-size="23.6" class="r">5.8</text>
<text transform="translate(880.41 2254.96) scale(0.9400 1)" font-size="23.6" class="r">5.6</text>
<text transform="translate(880.41 2298.16) scale(0.9400 1)" font-size="23.6" class="r">5.4</text>
<text transform="translate(880.41 2341.86) scale(0.9400 1)" font-size="23.6" class="r">5.2</text>
<text transform="translate(880.41 2385.76) scale(0.9400 1)" font-size="23.6" class="r">5.0</text>
<text transform="translate(132.44 2407.06) scale(0.9400 1)" font-size="23.6" class="r">0</text>
<text transform="translate(212.39 2407.06) scale(0.9416 1)" font-size="23.6" class="r">200</text>
<text transform="translate(303.75 2407.06) scale(0.9269 1)" font-size="23.6" class="r">400</text>
<text transform="translate(394.19 2407.06) scale(0.9416 1)" font-size="23.6" class="r">600</text>
<text transform="translate(485.9 2407.06) scale(0.9386 1)" font-size="23.6" class="r">800</text>
<text transform="translate(577.26 2407.06) scale(0.9238 1)" font-size="23.6" class="r">1000</text>
<text transform="translate(662.66 2407.06) scale(0.9238 1)" font-size="23.6" class="r">1200</text>
<text transform="translate(754.56 2407.06) scale(0.9238 1)" font-size="23.6" class="r">1400</text>
<text transform="translate(842.06 2407.06) scale(0.9238 1)" font-size="23.6" class="r">1600</text>
<text y="2435" font-size="26.4" font-weight="bold"><tspan x="407.08" letter-spacing="0.66">Days</tspan> <tspan x="480.15" letter-spacing="1.64">in</tspan> <tspan x="512.01" letter-spacing="-0.13">Study</tspan></text>
<text transform="translate(63.2 2234.16) rotate(-90) scale(1.0065 1)" font-size="26.4" font-weight="bold">Glucose (mg ml<tspan font-size="15.05" dy="-9.5">-1</tspan><tspan dy="9.5">&#8203;</tspan>)</text>
<text transform="translate(932 2090.79) rotate(90) scale(0.9452 1)" font-size="27.9" font-weight="bold">HbA1C (%)</text>
<text transform="translate(134.49 1972.9) scale(0.9610 1)" font-size="35" class="r">ZM7JY3G</text>
<rect x="127.2" y="2124" width="21.6" height="21.3" fill="#DD2A1C" rx="2"/>
<rect x="143.2" y="2151.4" width="21.6" height="21.6" fill="#DD2A1C" rx="2"/>
<rect x="168.6" y="2301.6" width="22.2" height="22" fill="#DD2A1C" rx="2"/>
<path d="M139.1 2247.7C141.93 2247.7 149.05 2247.7 156.1 2247.7C163.15 2247.7 171.43 2258.98 181.4 2247.7C191.37 2236.42 203.45 2176.5 215.9 2180C228.35 2183.5 241.18 2257.42 256.1 2268.7C271.02 2279.98 288.62 2251.2 305.4 2247.7C322.18 2244.2 338.52 2251.68 356.8 2247.7C375.08 2243.72 397.75 2216.6 415.1 2223.8C432.45 2231 444.95 2283.37 460.9 2290.9C476.85 2298.43 493 2280.1 510.8 2269C528.6 2257.9 551.55 2227.85 567.7 2224.3C583.85 2220.75 588.25 2243.8 607.7 2247.7C627.15 2251.6 660.68 2247.7 684.4 2247.7C708.12 2247.7 726.8 2251.6 750 2247.7C773.2 2243.8 811.33 2228.2 823.6 2224.3" fill="none" stroke="#ADADAD" stroke-width="3.2" stroke-linejoin="round" stroke-linecap="round"/>
<circle cx="139.1" cy="2247.7" r="7" fill="#ADADAD"/>
<circle cx="156.1" cy="2247.7" r="7" fill="#ADADAD"/>
<circle cx="181.4" cy="2247.7" r="7" fill="#ADADAD"/>
<circle cx="215.9" cy="2180" r="7" fill="#ADADAD"/>
<circle cx="256.1" cy="2268.7" r="7" fill="#ADADAD"/>
<circle cx="305.4" cy="2247.7" r="7" fill="#ADADAD"/>
<circle cx="356.8" cy="2247.7" r="7" fill="#ADADAD"/>
<circle cx="415.1" cy="2223.8" r="7" fill="#ADADAD"/>
<circle cx="460.9" cy="2290.9" r="7" fill="#ADADAD"/>
<circle cx="510.8" cy="2269" r="7" fill="#ADADAD"/>
<circle cx="567.7" cy="2224.3" r="7" fill="#ADADAD"/>
<circle cx="607.7" cy="2247.7" r="7" fill="#ADADAD"/>
<circle cx="684.4" cy="2247.7" r="7" fill="#ADADAD"/>
<circle cx="750" cy="2247.7" r="7" fill="#ADADAD"/>
<circle cx="823.6" cy="2224.3" r="7" fill="#ADADAD"/>
<circle cx="366.1" cy="1979.6" r="11.6" fill="#74A6DA"/>
<circle cx="460.3" cy="2194.3" r="11.4" fill="#74A6DA"/>
<circle cx="606.5" cy="2226.7" r="11.4" fill="#74A6DA"/>
<path d="M138.6 2280.4C141.37 2283.55 148.15 2297.7 155.2 2299.3C162.25 2300.9 170.78 2293.02 180.9 2290C191.02 2286.98 203.42 2281.2 215.9 2281.2C228.38 2281.2 240.88 2286.98 255.8 2290C270.72 2293.02 288.62 2297.75 305.4 2299.3C322.18 2300.85 338.27 2298.77 356.5 2299.3C374.73 2299.83 397.4 2301.03 414.8 2302.5C432.2 2303.97 444.98 2308.97 460.9 2308.1C476.82 2307.23 492.65 2303.63 510.3 2297.3C527.95 2290.97 550.77 2273.12 566.8 2270.1C582.83 2267.08 587 2277.68 606.5 2279.2C626 2280.72 659.97 2280.32 683.8 2279.2C707.63 2278.08 726.3 2272.8 749.5 2272.5C772.7 2272.2 810.75 2276.58 823 2277.4" fill="none" stroke="#E97A22" stroke-width="3.2" stroke-linejoin="round" stroke-linecap="round"/>
<circle cx="138.6" cy="2280.4" r="8.2" fill="#E97A22"/>
<circle cx="155.2" cy="2299.3" r="8.2" fill="#E97A22"/>
<circle cx="180.9" cy="2290" r="8.2" fill="#E97A22"/>
<circle cx="215.9" cy="2281.2" r="8.2" fill="#E97A22"/>
<circle cx="255.8" cy="2290" r="8.2" fill="#E97A22"/>
<circle cx="305.4" cy="2299.3" r="8.2" fill="#E97A22"/>
<circle cx="356.5" cy="2299.3" r="8.2" fill="#E97A22"/>
<circle cx="414.8" cy="2302.5" r="8.2" fill="#E97A22"/>
<circle cx="460.9" cy="2308.1" r="8.2" fill="#E97A22"/>
<circle cx="510.3" cy="2297.3" r="8.2" fill="#E97A22"/>
<circle cx="566.8" cy="2270.1" r="8.2" fill="#E97A22"/>
<circle cx="606.5" cy="2279.2" r="8.2" fill="#E97A22"/>
<circle cx="683.8" cy="2279.2" r="8.2" fill="#E97A22"/>
<circle cx="749.5" cy="2272.5" r="8.2" fill="#E97A22"/>
<circle cx="823" cy="2277.4" r="8.2" fill="#E97A22"/>
<text transform="translate(342.66 2017.4) scale(0.9293 1)" font-size="29" font-weight="bold" fill="#DD2A1C">2.31</text>
<text transform="translate(126.55 2120.4) scale(0.9839 1)" font-size="29" font-weight="bold" fill="#DD2A1C">1.60</text>
<text transform="translate(136.02 2193) scale(0.9517 1)" font-size="23.6" class="r">1.48</text>
<text transform="translate(167.7 2344.1) scale(0.9542 1)" font-size="23.6" class="r">0.80</text>
<text transform="translate(432.1 2181.9) scale(0.9603 1)" font-size="23.6" class="r">1.34</text>
<text transform="translate(579.19 2214.8) scale(0.9682 1)" font-size="23.6" class="r">1.19</text>
<text transform="translate(130.39 2242) scale(0.9643 1)" font-size="23.6" class="r">5.6</text>
<text transform="translate(223.68 2185.1) scale(0.9773 1)" font-size="23.6" class="r">5.9</text>
<text transform="translate(290.19 2239.6) scale(0.9676 1)" font-size="23.6" class="r">5.6</text>
<text transform="translate(401.7 2216.3) scale(0.9485 1)" font-size="23.6" class="r">5.7</text>
<text transform="translate(452.1 2279.9) scale(0.9566 1)" font-size="23.6" class="r">5.4</text>
<text transform="translate(735.08 2238.2) scale(0.9773 1)" font-size="23.6" class="r">5.6</text>
<text transform="translate(808.99 2216.3) scale(0.9681 1)" font-size="23.6" class="r">5.7</text>
<text transform="translate(108.48 2279.9) scale(0.9747 1)" font-size="23.6" class="r">0.95</text>
<text transform="translate(159.48 2279.9) scale(0.9747 1)" font-size="23.6" class="r">0.90</text>
<text transform="translate(126.89 2325.1) scale(0.9636 1)" font-size="23.6" class="r">0.86</text>
<text transform="translate(201.8 2308.2) scale(0.9559 1)" font-size="23.6" class="r">0.94</text>
<text transform="translate(244.08 2318.4) scale(0.9747 1)" font-size="23.6" class="r">0.90</text>
<text transform="translate(293.68 2327.1) scale(0.9773 1)" font-size="23.6" class="r">0.86</text>
<text transform="translate(345.68 2327.1) scale(0.9750 1)" font-size="23.6" class="r">0.86</text>
<text transform="translate(403.7 2330.9) scale(0.9559 1)" font-size="23.6" class="r">0.84</text>
<text transform="translate(450.38 2335.9) scale(0.9731 1)" font-size="23.6" class="r">0.82</text>
<text transform="translate(498.29 2325.1) scale(0.9662 1)" font-size="23.6" class="r">0.87</text>
<text transform="translate(544.08 2297.1) scale(0.9705 1)" font-size="23.6" class="r">0.99</text>
<text transform="translate(595.38 2309.1) scale(0.9747 1)" font-size="23.6" class="r">0.95</text>
<text transform="translate(672.39 2309.1) scale(0.9679 1)" font-size="23.6" class="r">0.95</text>
<text transform="translate(738.88 2303.2) scale(0.9747 1)" font-size="23.6" class="r">0.98</text>
<text transform="translate(812.68 2307.6) scale(0.9773 1)" font-size="23.6" class="r">0.96</text>
<line x1="182.9" y1="2026" x2="151.7" y2="2026" stroke="#000" stroke-width="4"/>
<line x1="153.7" y1="2026" x2="153.7" y2="2077.6" stroke="#000" stroke-width="4.2"/>
<polygon points="153.7,2094.6 145.7,2070.6 153.7,2076.6 161.7,2070.6" fill="#000"/>
<text transform="translate(187.98 2031.9) scale(0.9777 1)" font-size="25.5" font-weight="bold">Lifestyle</text>
<text transform="translate(188.61 2062.5) scale(0.9687 1)" font-size="25.5" font-weight="bold">change</text>
</g>
</svg>
</body></html>
